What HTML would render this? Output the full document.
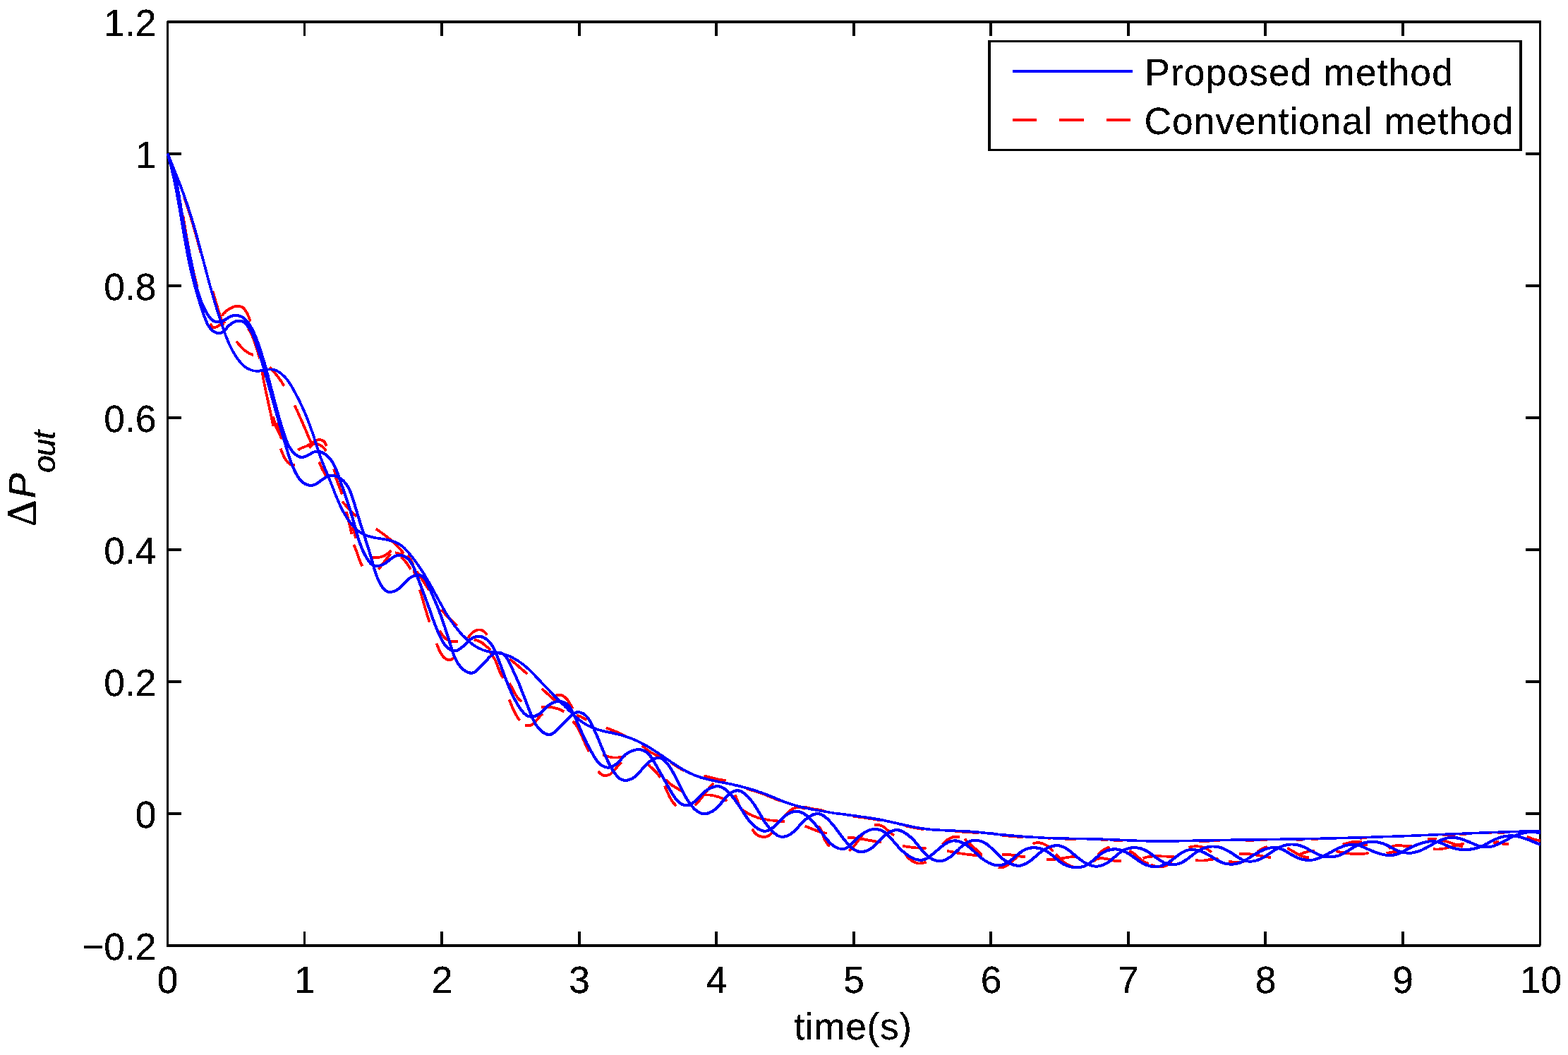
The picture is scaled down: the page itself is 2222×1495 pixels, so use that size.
<!DOCTYPE html>
<html lang="en"><head><meta charset="utf-8"><title>Step response comparison</title>
<style>html,body{margin:0;padding:0;background:#fff;}body{width:2222px;height:1495px;overflow:hidden;}svg{display:block;}text{font-family:"Liberation Sans",sans-serif;font-size:53.33px;fill:#000;}.b{fill:none;stroke:#0000ff;stroke-width:2.85;stroke-linejoin:round;stroke-linecap:butt;}.r{fill:none;stroke:#ff0000;stroke-width:2.9;stroke-linejoin:round;stroke-linecap:butt;}</style></head><body>
<svg width="2222" height="1495" viewBox="0 0 2222 1495">
<rect x="0" y="0" width="2222" height="1495" fill="#ffffff"/>
<defs><filter id="crisp" filterUnits="userSpaceOnUse" x="0" y="0" width="2222" height="1495" color-interpolation-filters="sRGB"><feComponentTransfer><feFuncA type="discrete" tableValues="0 0 1 1 1 1"/></feComponentTransfer></filter><filter id="anypart" filterUnits="userSpaceOnUse" x="0" y="0" width="2222" height="1495" color-interpolation-filters="sRGB"><feComponentTransfer><feFuncA type="discrete" tableValues="0 1 1 1 1 1 1 1 1 1 1 1 1 1 1 1 1 1 1 1 1 1 1 1"/></feComponentTransfer></filter></defs>
<g fill="#000" shape-rendering="crispEdges">
<rect x="237" y="29" width="1947" height="4"/>
<rect x="236" y="1338" width="1947" height="4"/>
<rect x="236" y="30" width="3" height="1310"/>
<rect x="2181" y="31" width="3" height="1309"/>
<rect x="430" y="1320" width="3" height="18"/>
<rect x="430" y="33" width="3" height="18"/>
<rect x="624" y="1320" width="4" height="18"/>
<rect x="624" y="33" width="4" height="18"/>
<rect x="819" y="1320" width="4" height="18"/>
<rect x="819" y="33" width="4" height="18"/>
<rect x="1013" y="1320" width="4" height="18"/>
<rect x="1013" y="33" width="4" height="18"/>
<rect x="1208" y="1320" width="4" height="18"/>
<rect x="1208" y="33" width="4" height="18"/>
<rect x="1402" y="1320" width="4" height="18"/>
<rect x="1402" y="33" width="4" height="18"/>
<rect x="1597" y="1320" width="4" height="18"/>
<rect x="1597" y="33" width="4" height="18"/>
<rect x="1791" y="1320" width="4" height="18"/>
<rect x="1791" y="33" width="4" height="18"/>
<rect x="1986" y="1320" width="4" height="18"/>
<rect x="1986" y="33" width="4" height="18"/>
<rect x="239" y="216" width="18" height="4"/>
<rect x="2162" y="216" width="19" height="4"/>
<rect x="239" y="403" width="18" height="4"/>
<rect x="2162" y="403" width="19" height="4"/>
<rect x="239" y="590" width="18" height="4"/>
<rect x="2162" y="590" width="19" height="4"/>
<rect x="239" y="777" width="18" height="4"/>
<rect x="2162" y="777" width="19" height="4"/>
<rect x="239" y="964" width="18" height="4"/>
<rect x="2162" y="964" width="19" height="4"/>
<rect x="239" y="1151" width="18" height="4"/>
<rect x="2162" y="1151" width="19" height="4"/>
</g>
<g class="r" filter="url(#anypart)">
<path d="M314.8 447.1L316.3 445.1L318.1 443.1L320.1 441.2L322.4 439.4L324.8 437.8L327.3 436.4L329.8 435.3L332.4 434.4L335.0 433.9L337.5 433.8L339.9 434.1L342.2 434.8L344.3 436.1L346.2 437.9L347.8 440.1L349.4 442.5L350.7 445.1L351.9 447.7L353.0 450.3L354.0 452.9L354.8 455.1"/>
<path d="M298.1 458.7L300.4 462.4L302.8 463.9L305.3 463.9L308.0 462.6L310.7 460.8L313.4 458.7L316.1 457.0L318.8 456.0"/>
<path d="M335.1 484.0L336.9 486.1L338.7 488.2L340.5 490.3L342.5 492.3L344.5 494.3L346.5 496.2L348.7 497.9L351.0 499.5L353.4 500.9L355.9 502.0L358.6 502.9"/>
<path d="M371.2 526.4L373.9 535.0"/>
<path d="M382.6 520.8L384.6 523.0L386.6 525.2L388.5 527.4L390.4 529.7L392.3 532.0L394.1 534.3L395.9 536.7L397.6 539.1L399.2 541.5L400.8 544.0L402.4 546.5"/>
<path d="M371.7 527.1L372.1 529.7L372.5 532.3L372.9 534.8L373.4 537.4L373.8 540.0L374.3 542.5L374.8 545.1L375.3 547.6L375.8 550.2L376.4 552.8L376.9 555.3L377.5 557.9L378.0 560.4L378.6 563.0L379.1 565.5L379.7 568.1L380.2 570.6L380.8 573.1L381.4 575.7L381.9 578.2L382.5 580.8L383.0 583.3L383.6 585.9L384.1 588.4L384.6 591.0L385.2 593.5L385.7 596.1L386.2 598.7L386.6 601.2L387.1 603.8"/>
<path d="M387.1 590.3L390.7 603.8L398.8 621.0"/>
<path d="M417.8 574.9L418.9 577.3L420.0 579.8L421.2 582.2L422.3 584.6L423.4 587.1L424.4 589.5L425.5 592.0L426.6 594.4L427.7 596.9L428.8 599.3L429.8 601.8L430.9 604.2L432.0 606.7L433.0 609.2L434.1 611.6L435.1 614.1L436.2 616.6L437.2 619.0L438.3 621.5L439.4 623.9L440.4 626.4"/>
<path d="M391.8 600.0L395.4 611.7L399.9 621.7"/>
<path d="M397.7 636.1L398.6 638.4L399.6 640.9L400.7 643.5L401.9 646.2L403.2 648.8L404.7 651.2L406.3 653.5L408.2 655.5L410.2 657.2L412.6 658.4L415.1 659.1L418.0 659.2"/>
<path d="M422.5 637.5L424.8 636.1L427.2 635.0L429.6 633.9L432.1 633.0L434.5 632.0L436.9 630.9L439.2 629.6L441.5 628.1L443.8 626.6L446.1 625.1L448.4 624.0L450.8 623.3L453.3 623.2L455.7 623.6L457.9 624.7L459.8 626.4L461.3 628.7L462.3 631.9"/>
<path d="M438.7 634.4L440.9 631.7L443.3 629.9L445.9 629.0L448.6 628.9L451.2 629.5L453.8 630.7L456.2 632.4L458.4 634.4L460.4 636.6L462.1 638.9"/>
<path d="M452.3 655.1L456.8 665.0L462.2 674.9"/>
<path d="M473.1 665.0L475.8 672.2"/>
<path d="M475.8 676.7L480.3 688.5L484.8 700.2"/>
<path d="M485.5 711.0L487.3 713.2L489.1 715.4L490.9 717.6L492.8 719.7L494.7 721.8L496.7 723.9L498.7 725.9L500.8 727.9L502.9 729.8L505.0 731.7"/>
<path d="M491.1 725.5L491.7 728.4L492.3 731.2L493.0 734.1L493.7 736.9L494.4 739.7L495.1 742.6L495.8 745.4L496.5 748.3L497.1 751.1L497.6 754.0L498.0 756.9"/>
<path d="M499.8 747.0L504.3 762.3"/>
<path d="M501.6 772.2L502.7 774.9L503.8 777.6L504.8 780.3L505.8 783.1L506.7 785.8L507.7 788.6L508.7 791.3L509.7 794.0L510.8 796.7L512.0 799.4L513.3 802.0"/>
<path d="M533.2 749.7L535.5 751.2L537.7 752.8L539.9 754.4L542.1 756.0L544.3 757.6L546.5 759.3L548.6 761.0L550.8 762.7L552.9 764.5L554.9 766.3L557.0 768.1L559.0 770.0L561.0 771.9L562.9 773.8L564.8 775.8L566.7 777.8L568.5 779.8L570.3 781.9L572.0 784.0"/>
<path d="M526.0 789.4L528.7 790.0L531.5 790.2L534.3 790.2L537.1 789.8L539.9 789.2L542.5 788.3L545.1 787.2L547.6 785.8L549.9 784.2L552.1 782.4L554.0 780.4"/>
<path d="M536.8 806.5L538.6 804.1L540.4 801.7L542.2 799.3L544.0 796.9L545.9 794.5L547.7 792.1L549.5 789.7L551.3 787.3L553.1 784.9"/>
<path d="M560.3 783.1L565.7 784.9L572.0 784.9"/>
<path d="M568.4 789.4L570.8 791.5L572.9 793.7L574.9 796.2L576.7 798.7L578.5 801.3L580.2 803.9L582.0 806.5"/>
<path d="M577.4 787.6L582.0 793.0L585.6 800.2"/>
<path d="M586.5 808.4L589.2 817.4"/>
<path d="M591.0 810.2L592.5 812.5L594.1 814.8L595.6 817.2L597.2 819.5L598.7 821.8L600.3 824.1L601.8 826.4L603.3 828.8L604.8 831.1L606.2 833.6L607.5 836.0"/>
<path d="M595.0 836.0L595.8 838.7L596.6 841.3L597.4 844.0L598.1 846.7L598.9 849.3L599.7 852.0L600.4 854.7L601.2 857.3L602.0 860.0L602.8 862.7L603.6 865.3L604.4 868.0L605.2 870.6L606.0 873.3L606.9 875.9L607.7 878.6L608.6 881.2"/>
<path d="M625.7 864.0L627.5 866.2L629.3 868.4L631.2 870.5L633.2 872.6L635.2 874.6L637.3 876.6L639.3 878.6L641.4 880.5L643.4 882.5L645.4 884.5L647.4 886.6"/>
<path d="M623.1 893.7L624.5 896.3L626.1 898.8L627.8 901.1L629.8 903.3L631.9 905.2L634.3 906.7L636.8 908.0L639.4 908.9L642.2 909.3L645.2 909.2L648.4 908.6"/>
<path d="M663.7 903.9L665.1 901.5L666.8 899.2L668.8 897.1L671.0 895.3L673.4 893.8L675.9 892.8L678.5 892.4L681.1 892.5L683.5 893.2L685.9 894.7L688.0 896.7L689.9 899.5"/>
<path d="M672.1 906.5L675.1 907.1L678.0 908.1L680.6 909.4L683.2 911.0L685.6 912.8L687.9 914.8L690.3 916.8L692.6 918.7L694.9 920.6"/>
<path d="M618.6 912.0L619.5 914.2L620.5 916.6L621.6 919.3L622.8 922.0L624.2 924.8L625.8 927.4L627.5 929.8L629.4 931.9L631.5 933.6L633.7 934.8L636.0 935.3L638.5 935.0L641.1 933.8L643.8 931.6"/>
<path d="M694.9 926.0L696.9 928.0L698.6 930.2L700.2 932.6L701.5 935.0L702.7 937.5L703.7 940.1L704.7 942.7L705.7 945.4L706.7 948.0L707.7 950.7L708.8 953.2L710.0 955.7L711.4 958.1L712.9 960.4"/>
<path d="M722.0 934.2L724.3 935.7L726.5 937.3L728.6 939.0L730.8 940.7L732.8 942.5L734.9 944.3L736.9 946.1L738.9 947.9L741.0 949.7L743.1 951.5L745.2 953.2L747.3 954.9"/>
<path d="M722.0 968.5L723.5 970.8L724.8 973.3L726.2 975.8L727.5 978.3L728.8 980.8L730.1 983.3L731.6 985.7L733.2 988.0L734.9 990.2L736.9 992.1L739.2 993.9"/>
<path d="M721.8 991.6L722.9 994.3L724.0 997.1L725.1 999.8L726.2 1002.6L727.4 1005.3L728.6 1007.9L730.0 1010.6L731.4 1013.1L732.9 1015.7L734.5 1018.1L736.3 1020.5"/>
<path d="M768.0 976.2L770.3 978.2L772.7 980.3L775.0 982.4L777.3 984.4L779.6 986.5L781.9 988.6L784.2 990.7L786.5 992.7"/>
<path d="M787.2 985.7L790.2 984.8L792.9 984.6L795.5 985.1L797.9 986.2L800.1 987.7L802.2 989.6L804.1 991.8L805.8 994.3L807.4 996.8L808.8 999.3L810.1 1001.7L811.3 1003.9"/>
<path d="M767.1 1002.1L769.8 1001.8L772.6 1001.7L775.3 1001.7L778.0 1001.8L780.7 1002.1L783.4 1002.5L786.0 1003.1L788.6 1003.8L791.2 1004.6L793.7 1005.6L796.2 1006.8L798.7 1008.1"/>
<path d="M744.3 1027.8L747.4 1028.5L750.2 1028.3L752.7 1027.5L755.0 1026.1L757.1 1024.3L759.2 1022.2L761.1 1019.9L763.0 1017.6L764.9 1015.3L766.8 1013.3L768.7 1011.6"/>
<path d="M817.5 1013.3L823.8 1016.0L831.1 1020.0"/>
<path d="M812.0 1022.4L813.8 1024.4L815.5 1026.5L817.1 1028.7L818.5 1030.9L819.9 1033.2L821.1 1035.6L822.3 1038.0L823.5 1040.4L824.5 1042.8L825.6 1045.3L826.6 1047.8L827.7 1050.3L828.7 1052.7L829.8 1055.2L830.9 1057.6L832.1 1060.0L833.3 1062.4L834.6 1064.7"/>
<path d="M859.0 1031.5L861.7 1032.4L864.3 1033.4L867.0 1034.4L869.6 1035.5L872.2 1036.6L874.8 1037.7L877.4 1038.9L879.9 1040.2L882.4 1041.5L884.9 1042.8L887.4 1044.2"/>
<path d="M854.5 1069.6L856.9 1070.7L859.5 1071.5L862.1 1072.2L864.9 1072.8L867.7 1073.2L870.5 1073.4L873.3 1073.5L876.1 1073.5L878.9 1073.3L881.5 1072.8L883.9 1072.0L886.1 1070.7"/>
<path d="M847.9 1093.0L850.2 1095.7L852.6 1097.5L855.1 1098.7L857.6 1099.1L860.1 1098.9L862.5 1098.2L864.9 1096.9L867.0 1095.2L869.1 1093.2L871.1 1091.0L873.0 1088.7L874.9 1086.4L876.7 1084.2L878.6 1082.2L880.5 1080.5"/>
<path d="M910.4 1057.0L912.6 1059.0L914.9 1060.9L917.3 1062.7L919.7 1064.4L922.2 1066.0L924.8 1067.5L927.4 1068.8L930.1 1070.1L932.8 1071.3L935.6 1072.4"/>
<path d="M919.4 1084.1L921.5 1086.2L923.6 1088.3L925.7 1090.4L927.8 1092.4L929.9 1094.5L931.9 1096.7L933.8 1099.0L935.6 1101.3"/>
<path d="M943.8 1104.9L945.7 1107.1L947.8 1109.2L950.0 1111.0L952.4 1112.7L954.8 1114.3L957.3 1115.8L959.8 1117.3L962.3 1118.8L964.8 1120.3L967.2 1122.0"/>
<path d="M942.0 1113.9L943.1 1116.3L944.3 1118.8L945.3 1121.3L946.5 1123.8L947.6 1126.3L948.8 1128.8L950.0 1131.2L951.4 1133.5L952.9 1135.8L954.5 1138.0L956.2 1140.0L958.2 1141.9"/>
<path d="M997.9 1099.5L1000.6 1100.1L1003.4 1100.8L1006.1 1101.5L1008.8 1102.2L1011.6 1102.9L1014.3 1103.6L1017.1 1104.2L1019.8 1104.8L1022.6 1105.2L1025.4 1105.6L1028.2 1105.8"/>
<path d="M985.3 1141.0L987.2 1138.9L989.1 1136.8L990.9 1134.6L992.7 1132.4L994.5 1130.1L996.2 1127.9L997.9 1125.6L999.6 1123.4L1001.4 1121.1L1003.1 1118.9L1004.9 1116.7L1006.8 1114.5L1008.7 1112.4L1010.6 1110.3"/>
<path d="M998.8 1126.5L1001.5 1126.4L1004.3 1126.4L1007.0 1126.7L1009.7 1127.1L1012.3 1127.6L1015.0 1128.3L1017.6 1129.1L1020.2 1130.0L1022.7 1131.1L1025.2 1132.2L1027.6 1133.4L1030.0 1134.7"/>
<path d="M1041.6 1126.9L1042.9 1129.3L1043.9 1131.7L1044.8 1134.3L1045.6 1136.8L1046.4 1139.3L1047.3 1141.7L1048.5 1143.9L1049.9 1145.8L1051.7 1147.5L1053.8 1149.0L1056.0 1150.3L1058.3 1151.6L1060.6 1152.9L1063.0 1154.1L1065.4 1155.3L1067.9 1156.3L1070.4 1157.4L1072.9 1158.3L1075.4 1159.1L1077.9 1159.8L1080.4 1160.4L1083.0 1160.9L1085.5 1161.4L1088.1 1161.7L1090.7 1162.1L1093.3 1162.4L1095.9 1162.7L1098.5 1162.9L1101.1 1163.2L1103.7 1163.4L1106.3 1163.7L1109.0 1164.0L1111.6 1164.3"/>
<path d="M1066.1 1175.0L1067.6 1177.7L1069.4 1180.1L1071.5 1182.1L1073.9 1183.7L1076.5 1185.0L1079.2 1185.7L1082.0 1186.0L1084.8 1185.8L1087.5 1185.1L1090.0 1183.7L1092.3 1181.8L1094.4 1179.2"/>
<path d="M1112.7 1155.7L1114.5 1153.4L1116.5 1151.3L1118.6 1149.3L1120.9 1147.6L1123.4 1146.2L1125.9 1145.1L1128.6 1144.4L1131.3 1144.1L1134.1 1144.2L1137.0 1144.8L1139.9 1146.0"/>
<path d="M1140.9 1170.8L1143.6 1171.7L1146.3 1172.8L1149.0 1173.9L1151.7 1175.0L1154.4 1176.1L1157.1 1177.2L1159.8 1178.1L1162.6 1179.0L1165.4 1179.7L1168.3 1180.2L1171.2 1180.5"/>
<path d="M1160.4 1170.8L1161.9 1173.3L1163.2 1175.9L1164.4 1178.6L1165.4 1181.3L1166.4 1184.1L1167.5 1186.9L1168.6 1189.6L1170.0 1192.2L1171.5 1194.6L1173.3 1196.9L1175.5 1198.9"/>
<path d="M1201.5 1187.0L1204.3 1187.0L1207.1 1187.1L1209.8 1187.3L1212.6 1187.6L1215.4 1187.9L1218.1 1188.3L1220.8 1188.7L1223.6 1189.2L1226.3 1189.7L1229.0 1190.2L1231.8 1190.7L1234.5 1191.3L1237.2 1191.8L1240.0 1192.2L1242.7 1192.7L1245.4 1193.1L1248.2 1193.4"/>
<path d="M1203.7 1205.4L1205.8 1203.5L1207.8 1201.6L1209.7 1199.5L1211.5 1197.3L1213.2 1195.1L1214.9 1192.9L1216.5 1190.6L1218.1 1188.3L1219.8 1186.0L1221.5 1183.8L1223.2 1181.6"/>
<path d="M1239.5 1169.5L1242.6 1168.9L1245.4 1168.9L1248.1 1169.6L1250.6 1170.8L1253.1 1172.4L1255.4 1174.2L1257.6 1176.2L1259.9 1178.3L1262.1 1180.3L1264.3 1182.1L1266.6 1183.6"/>
<path d="M1279.6 1198.8L1282.3 1199.3L1285.0 1199.7L1287.7 1200.1L1290.4 1200.5L1293.1 1200.8L1295.8 1201.1L1298.5 1201.4L1301.2 1201.6L1303.9 1201.8L1306.7 1201.9L1309.4 1202.0L1312.1 1202.1"/>
<path d="M1283.9 1211.9L1285.7 1214.2L1287.8 1216.3L1290.0 1218.3L1292.5 1219.9L1295.1 1221.3L1297.8 1222.4L1300.6 1223.1L1303.4 1223.4L1306.3 1223.3L1309.3 1222.7L1312.1 1221.6"/>
<path d="M1335.9 1196.7L1337.8 1194.4L1340.0 1192.2L1342.4 1190.2L1345.0 1188.5L1347.7 1187.2L1350.6 1186.2L1353.6 1185.8L1356.7 1185.8L1359.8 1186.4"/>
<path d="M1342.4 1205.9L1345.1 1206.4L1347.8 1207.0L1350.5 1207.5L1353.1 1208.0L1355.8 1208.5L1358.5 1208.9L1361.2 1209.4L1363.9 1209.8L1366.7 1210.2L1369.4 1210.6L1372.1 1210.9L1374.8 1211.2L1377.5 1211.5L1380.3 1211.7L1383.0 1211.8L1385.7 1211.9L1388.5 1211.9L1391.2 1211.9"/>
<path d="M1367.4 1189.1L1369.5 1191.2L1371.6 1193.2L1373.7 1195.2L1375.9 1197.2L1378.0 1199.2L1380.2 1201.2L1382.4 1203.1L1384.5 1205.1L1386.7 1207.0L1388.9 1209.0L1391.1 1210.9"/>
<path d="M1420.5 1210.8L1423.2 1210.7L1426.0 1210.8L1428.7 1211.0L1431.4 1211.3L1434.1 1211.7L1436.8 1212.1L1439.5 1212.5L1442.2 1212.9L1444.9 1213.3L1447.6 1213.7L1450.3 1214.0L1453.0 1214.2"/>
<path d="M1415.0 1229.2L1417.9 1229.4L1420.7 1229.1L1423.3 1228.3L1425.7 1227.2L1428.0 1225.7L1430.3 1224.0L1432.4 1222.2L1434.6 1220.3L1436.7 1218.5L1438.8 1216.7L1441.0 1215.1"/>
<path d="M1463.8 1195.6L1466.4 1194.6L1469.1 1194.2L1471.7 1194.1L1474.4 1194.5L1477.0 1195.2L1479.5 1196.2L1482.0 1197.5L1484.4 1199.0L1486.6 1200.6L1488.6 1202.4L1490.5 1204.3L1492.1 1206.2"/>
<path d="M1483.3 1217.8L1486.0 1218.0L1488.7 1218.1L1491.4 1218.0L1494.1 1217.8L1496.7 1217.5L1499.4 1217.1L1502.1 1216.7L1504.7 1216.3L1507.4 1215.8L1510.0 1215.4L1512.7 1215.0L1515.4 1214.6L1518.0 1214.3L1520.7 1214.1L1523.4 1214.0"/>
<path d="M1496.3 1210.8L1498.4 1212.8L1500.5 1214.9L1502.7 1217.1L1504.9 1219.2L1507.2 1221.2L1509.5 1223.1L1512.0 1224.8L1514.6 1226.2L1517.3 1227.4L1520.2 1228.2"/>
<path d="M1555.9 1210.8L1558.0 1209.0L1560.1 1207.2L1562.3 1205.5L1564.6 1203.9L1567.0 1202.5L1569.6 1201.4L1572.2 1200.5"/>
<path d="M1549.3 1220.6L1551.7 1218.8L1554.2 1217.5L1556.7 1216.7L1559.2 1216.3L1561.8 1216.3L1564.4 1216.5L1567.1 1217.0L1569.8 1217.5L1572.4 1218.2L1575.1 1218.9L1577.8 1219.5L1580.5 1220.0L1583.1 1220.3L1585.7 1220.3L1588.4 1220.0"/>
<path d="M1600.4 1205.9L1602.9 1207.1L1605.2 1208.5L1607.4 1210.0L1609.6 1211.8L1611.6 1213.6L1613.7 1215.4L1615.7 1217.2L1617.8 1218.9L1620.0 1220.5L1622.3 1221.9L1624.8 1223.0L1627.5 1223.8"/>
<path d="M1619.9 1216.2L1622.5 1215.4L1625.2 1214.7L1627.8 1214.2L1630.5 1213.9L1633.2 1213.6L1635.9 1213.4L1638.7 1213.3L1641.4 1213.3L1644.1 1213.3L1646.9 1213.4L1649.6 1213.5L1652.3 1213.6L1655.1 1213.7L1657.8 1213.9L1660.5 1213.9L1663.2 1214.0"/>
<path d="M1630.7 1225.8L1633.5 1226.5L1636.3 1227.3L1639.1 1228.0L1641.9 1228.5L1644.7 1228.6L1647.4 1228.3L1650.1 1227.7L1652.7 1226.6L1655.3 1225.3L1657.7 1223.5L1660.0 1221.5"/>
<path d="M1684.9 1201.0L1687.6 1200.1L1690.4 1199.6L1693.2 1199.2L1696.0 1199.2L1698.8 1199.4L1701.5 1199.9L1704.2 1200.6L1706.9 1201.5L1709.4 1202.7L1711.9 1204.1L1714.2 1205.7L1716.4 1207.4"/>
<path d="M1694.7 1218.9L1697.6 1219.3L1700.4 1219.4L1703.3 1219.4L1706.2 1219.2L1709.0 1218.9L1711.9 1218.5L1714.7 1218.1L1717.5 1217.7L1720.4 1217.3L1723.2 1217.0L1726.1 1216.7"/>
<path d="M1741.3 1221.1L1752.1 1221.6L1762.9 1221.6"/>
<path d="M1756.4 1210.2L1759.2 1210.0L1762.0 1209.9L1764.9 1209.9L1767.6 1210.0L1770.4 1210.3L1773.2 1210.6L1776.0 1211.0L1778.8 1211.4L1781.5 1211.9L1784.3 1212.3L1787.1 1212.9L1789.8 1213.4L1792.6 1213.9L1795.3 1214.3L1798.1 1214.8L1800.9 1215.1"/>
<path d="M1782.4 1206.4L1788.9 1202.6L1795.4 1199.9"/>
<path d="M1824.7 1202.1L1827.1 1203.4L1829.5 1204.7L1831.9 1206.2L1834.3 1207.6L1836.7 1209.1L1839.2 1210.4L1841.7 1211.7L1844.2 1212.8L1846.8 1213.8L1849.4 1214.5L1852.2 1214.9L1855.0 1215.1"/>
<path d="M1843.1 1210.2L1845.8 1209.1L1848.5 1208.2L1851.3 1207.3L1854.1 1206.7L1856.9 1206.1L1859.7 1205.7L1862.6 1205.4"/>
<path d="M1903.3 1196.7L1906.1 1195.6L1908.9 1194.8L1911.7 1194.1L1914.6 1193.5L1917.5 1193.2L1920.5 1192.9L1923.4 1192.8L1926.4 1192.8L1929.3 1192.9"/>
<path d="M1931.5 1196.7L1938.0 1196.7"/>
<path d="M1893.6 1206.3L1896.3 1206.8L1898.9 1207.3L1901.6 1207.8L1904.2 1208.3L1906.9 1208.7L1909.6 1209.1L1912.3 1209.5L1914.9 1209.8L1917.6 1210.1L1920.3 1210.2L1923.0 1210.3L1925.7 1210.3L1928.4 1210.2L1931.1 1210.0L1933.7 1209.6L1936.4 1209.1L1939.1 1208.5"/>
<path d="M1968.4 1202.1L1970.8 1200.4L1973.3 1199.3L1975.9 1198.6L1978.6 1198.2L1981.4 1198.2L1984.2 1198.3L1987.1 1198.5L1990.0 1198.7L1992.8 1198.9L1995.6 1199.0L1998.3 1198.8L2000.9 1198.3"/>
<path d="M1965.1 1209.1L1972.7 1207.5L1980.3 1207.0"/>
<path d="M2023.6 1189.1L2035.5 1188.6"/>
<path d="M2031.2 1203.2L2034.0 1203.4L2036.8 1203.4L2039.6 1203.3L2042.3 1203.0L2045.0 1202.6L2047.7 1202.1L2050.4 1201.5L2053.1 1200.8L2055.7 1200.1L2058.4 1199.4L2061.1 1198.6L2063.7 1197.9L2066.4 1197.2L2069.1 1196.6L2071.8 1196.0L2074.5 1195.6"/>
<path d="M2043.1 1190.7L2045.8 1191.3L2048.5 1192.1L2051.2 1192.9L2053.9 1193.7L2056.5 1194.6L2059.1 1195.5L2061.8 1196.4L2064.4 1197.3L2067.1 1198.2L2069.7 1199.1L2072.4 1199.9"/>
<path d="M2116.4 1194.5L2123.9 1192.3"/>
<path d="M2128.3 1195.6L2138.0 1196.1"/>
<path d="M2164.0 1185.8L2172.7 1189.1L2182.5 1191.3"/>
<path d="M2176.0 1178.6L2182.5 1178.9"/>
<path d="M259.4 306.1L259.9 309.1L260.4 312.0L260.9 315.0L261.4 318.0L261.9 321.0L262.4 323.9L262.9 326.9L263.4 329.9L263.9 332.8L264.4 335.8L264.9 338.8L265.5 341.7L266.0 344.7L266.5 347.6L267.1 350.6L267.6 353.5L268.2 356.5L268.7 359.4L269.3 362.4L269.9 365.3L270.5 368.2L271.1 371.2L271.7 374.1L272.4 377.0L273.0 379.9L273.7 382.8L274.3 385.8L275.0 388.7L275.7 391.6L276.4 394.5L277.2 397.4L277.9 400.3L278.6 403.2L279.4 406.0"/>
<path d="M261.0 279.5L262.0 282.3L263.0 285.2L264.0 288.0L264.9 290.8L265.9 293.7L266.8 296.5L267.7 299.4L268.6 302.3L269.5 305.1L270.4 308.0L271.3 310.9L272.2 313.7L273.0 316.6L273.9 319.5L274.7 322.4L275.5 325.3L276.4 328.2L277.2 331.1L278.0 333.9L278.8 336.8L279.6 339.7L280.3 342.6L281.1 345.5L281.9 348.4L282.7 351.4L283.5 354.3L284.2 357.2"/>
<path d="M301.4 412.3L302.2 415.2L303.1 418.1L303.9 421.0L304.7 423.9L305.6 426.8L306.4 429.7L307.3 432.5L308.2 435.4L309.0 438.3L309.9 441.2L310.8 444.0L311.7 446.9L312.7 449.7L313.6 452.6L314.5 455.4L315.5 458.3L316.5 461.1"/>
<path d="M351.9 465.5L353.6 468.3L355.1 471.1L356.5 473.9L357.7 476.7L358.9 479.5L360.0 482.3L361.0 485.1L361.9 487.9L362.8 490.7L363.7 493.5L364.6 496.3L365.5 499.2L366.3 502.0L367.2 504.9L368.1 507.7"/>
<path d="M951.1 1080.9L953.7 1082.5L956.2 1084.2L958.7 1085.9L961.3 1087.5L963.8 1089.1L966.4 1090.6L969.0 1092.1"/>
<path d="M1058.1 1117.7L1060.9 1118.5L1063.8 1119.4L1066.7 1120.2L1069.5 1121.1L1072.4 1122.0L1075.2 1123.0L1078.1 1123.9L1080.9 1125.0L1083.7 1126.0L1086.5 1127.1L1089.3 1128.2L1092.1 1129.3L1094.9 1130.4L1097.7 1131.6L1100.4 1132.8L1103.2 1133.9L1106.0 1135.0"/>
<path d="M1140.4 1143.7L1143.4 1144.4L1146.3 1145.0L1149.3 1145.6L1152.2 1146.2L1155.2 1146.7L1158.1 1147.3L1161.1 1147.8L1164.0 1148.3L1167.0 1148.8"/>
<path d="M1208.6 1156.6L1211.6 1157.0L1214.6 1157.4L1217.6 1157.8L1220.5 1158.2L1223.5 1158.6L1226.5 1159.0L1229.4 1159.5L1232.4 1159.9L1235.4 1160.4L1238.3 1160.9L1241.3 1161.4L1244.3 1161.9L1247.2 1162.4"/>
<path d="M1282.5 1170.1L1285.4 1170.8L1288.3 1171.4L1291.3 1172.0L1294.2 1172.6L1297.2 1173.2L1300.1 1173.7L1303.1 1174.2L1306.0 1174.7L1309.0 1175.1"/>
<path d="M1354.0 1178.1L1357.0 1178.3L1360.0 1178.4L1363.0 1178.5L1366.0 1178.7L1369.0 1178.9L1372.0 1179.0L1375.0 1179.3L1378.0 1179.5L1381.0 1179.7L1384.0 1180.0L1387.0 1180.3"/>
<path d="M1419.8 1183.6L1422.8 1183.9L1425.8 1184.2L1428.8 1184.5L1431.8 1184.7L1434.8 1185.0L1437.8 1185.2L1440.8 1185.5L1443.8 1185.7L1446.8 1186.0L1449.8 1186.2"/>
<path d="M1485.7 1188.3L1488.7 1188.4"/>
<path d="M1509.8 1189.0L1512.8 1189.1L1515.8 1189.1L1518.8 1189.2L1521.8 1189.2L1524.8 1189.3"/>
<path d="M1560.8 1190.1L1563.8 1190.2L1566.8 1190.3L1569.8 1190.4"/>
<path d="M1578.8 1190.7L1581.9 1190.9L1584.9 1191.0L1587.9 1191.1L1590.9 1191.3"/>
<path d="M1699.0 1191.9L1702.0 1191.9L1705.0 1191.8L1708.0 1191.7L1711.0 1191.7L1714.0 1191.6L1717.0 1191.6L1720.0 1191.5L1723.0 1191.5L1726.0 1191.4L1729.0 1191.3"/>
<path d="M1765.1 1190.8L1768.1 1190.8L1771.1 1190.7L1774.1 1190.7L1777.1 1190.6L1780.1 1190.6L1783.1 1190.6L1786.1 1190.5L1789.1 1190.5L1792.1 1190.4L1795.1 1190.4"/>
<path d="M1837.2 1189.8L1840.2 1189.7L1843.2 1189.7L1846.2 1189.6"/>
<path d="M1858.2 1189.4L1861.2 1189.3L1864.2 1189.3L1867.2 1189.2"/>
<path d="M1927.3 1187.7L1930.3 1187.6L1933.3 1187.5L1936.3 1187.4"/>
<path d="M2044.4 1183.3L2047.4 1183.2L2050.4 1183.1L2053.4 1182.9L2056.4 1182.8L2059.4 1182.7L2062.4 1182.5"/>
<path d="M2068.4 1182.3L2071.4 1182.2L2074.4 1182.0L2077.4 1181.9"/>
<path d="M2110.4 1180.6L2113.4 1180.5"/>
<path d="M2122.4 1180.1L2125.4 1180.0L2128.4 1179.9L2131.4 1179.8"/>
</g>
<g class="b" filter="url(#anypart)">
<path d="M237.4 218.0L238.6 220.8L239.8 223.6L240.9 226.3L242.1 229.1L243.2 231.9L244.4 234.7L245.5 237.4L246.6 240.2L247.8 243.0L248.9 245.8L250.0 248.6L251.1 251.4L252.2 254.2L253.3 257.0L254.4 259.8L255.5 262.6L256.5 265.4L257.6 268.2L258.6 271.0L259.7 273.8L260.7 276.7L261.7 279.5L262.7 282.3L263.7 285.2L264.7 288.0L265.6 290.8L266.6 293.7L267.5 296.5L268.4 299.4L269.3 302.3L270.2 305.1L271.1 308.0L272.0 310.9L272.9 313.7L273.7 316.6L274.6 319.5L275.4 322.4L276.2 325.3L277.1 328.2L277.9 331.1L278.7 333.9L279.5 336.8L280.3 339.7L281.0 342.6L281.8 345.5L282.6 348.4L283.4 351.4L284.2 354.3L284.9 357.2L285.7 360.1L286.5 363.0L287.2 365.9L288.0 368.8L288.8 371.7L289.5 374.6L290.3 377.5L291.1 380.4L291.8 383.3L292.6 386.2L293.4 389.1L294.2 392.1L294.9 395.0L295.7 397.9L296.5 400.8L297.3 403.7L298.1 406.6L298.9 409.5L299.7 412.3L300.5 415.2L301.4 418.1L302.2 421.0L303.0 423.9L303.9 426.8L304.7 429.7L305.6 432.5L306.5 435.4L307.3 438.3L308.2 441.2L309.1 444.0L310.0 446.9L311.0 449.7L311.9 452.6L312.8 455.4L313.8 458.3L314.8 461.1L315.7 464.0L316.7 466.8L317.7 469.6L318.8 472.4L319.8 475.2L320.9 478.0L322.0 480.8L323.1 483.6L324.3 486.4L325.6 489.1L326.8 491.8L328.2 494.5L329.6 497.1L331.1 499.8L332.6 502.3L334.2 504.9L336.0 507.4L337.8 509.9L339.7 512.3L341.7 514.6L343.8 516.7L346.0 518.8L348.4 520.6L350.8 522.2L353.5 523.5L356.2 524.5L359.1 525.3L362.0 525.7L365.0 525.8L368.0 525.5L371.0 525.0L374.0 524.5L377.1 523.9L380.1 523.5L383.0 523.3L385.9 523.5L388.7 524.1L391.5 525.1L394.1 526.5L396.7 528.1L399.1 530.0L401.4 532.0L403.6 534.2L405.6 536.6L407.5 538.9L409.3 541.4L411.0 543.9L412.6 546.4L414.1 549.0L415.6 551.6L417.0 554.2L418.4 556.8L419.8 559.4L421.2 562.1L422.6 564.7L423.9 567.4L425.2 570.1L426.5 572.8L427.8 575.6L429.0 578.3L430.3 581.0L431.5 583.8L432.6 586.6L433.8 589.3L434.9 592.1L436.1 594.9L437.2 597.7L438.2 600.6L439.3 603.4L440.3 606.2L441.3 609.0L442.3 611.9L443.3 614.7L444.2 617.6L445.2 620.4L446.1 623.3L447.0 626.1L448.0 629.0L448.9 631.9L449.8 634.7L450.7 637.6L451.7 640.4L452.6 643.2L453.6 646.1L454.6 648.9L455.7 651.7L456.7 654.5L457.8 657.3L458.9 660.1L460.1 662.9L461.2 665.7L462.4 668.4L463.6 671.2L464.7 674.0L465.9 676.8L467.0 679.6L468.2 682.3L469.3 685.1L470.4 687.9L471.5 690.7L472.6 693.5L473.6 696.3L474.7 699.1L475.9 701.9L477.0 704.7L478.1 707.5L479.3 710.2L480.5 713.0L481.7 715.7L483.0 718.4L484.4 721.1L485.7 723.7L487.2 726.4L488.6 729.0L490.2 731.6L491.8 734.1L493.5 736.6L495.3 739.1L497.1 741.5L499.1 743.9L501.1 746.2L503.2 748.3L505.4 750.4L507.7 752.3L510.1 754.1L512.5 755.6L515.1 757.0L517.8 758.2L520.6 759.3L523.4 760.1L526.3 760.9L529.3 761.5L532.2 762.1L535.3 762.6L538.3 763.1L541.3 763.6L544.4 764.1L547.4 764.7L550.4 765.4L553.3 766.1L556.1 766.9L558.9 767.9L561.7 769.1L564.3 770.4L566.8 771.8L569.2 773.5L571.5 775.4L573.7 777.4L575.8 779.6L577.9 781.9L579.9 784.2L581.8 786.5L583.7 788.9L585.6 791.3L587.4 793.7L589.2 796.1L590.9 798.5L592.7 801.0L594.4 803.5L596.0 806.0L597.7 808.5L599.3 811.0L600.9 813.5L602.4 816.1L604.0 818.7L605.5 821.2L607.0 823.8L608.5 826.4L610.0 829.0L611.5 831.6L612.9 834.3L614.4 836.9L615.8 839.6L617.2 842.2L618.7 844.8L620.1 847.5L621.5 850.1L623.0 852.8L624.4 855.4L625.9 858.0L627.4 860.6L628.9 863.2L630.4 865.8L631.9 868.4L633.5 871.0L635.1 873.5L636.7 876.0L638.4 878.5L640.1 881.0L641.8 883.5L643.6 885.9L645.4 888.3L647.3 890.7L649.2 893.0L651.1 895.3L653.1 897.5L655.1 899.8L657.2 901.9L659.4 904.0L661.6 906.1L663.8 908.1L666.1 910.1L668.4 912.0L670.8 913.8L673.3 915.5L675.8 917.1L678.4 918.5L681.1 919.8L683.9 921.0L686.7 921.9L689.6 922.7L692.6 923.4L695.6 924.0L698.6 924.5L701.5 924.9L704.5 925.3L707.4 925.7L710.3 926.3L713.3 926.9L716.2 927.8L719.0 928.8L721.8 929.9L724.6 931.1L727.3 932.4L730.0 933.9L732.6 935.4L735.1 937.1L737.5 938.8L739.9 940.5L742.3 942.4L744.6 944.3L746.8 946.3L749.0 948.3L751.2 950.4L753.3 952.5L755.5 954.6L757.6 956.8L759.6 958.9L761.7 961.1L763.8 963.3L765.8 965.5L767.9 967.7L770.0 969.9L772.0 972.1L774.1 974.3L776.2 976.4L778.3 978.6L780.4 980.7L782.5 982.8L784.6 985.0L786.7 987.1L788.9 989.2L791.0 991.3L793.1 993.4L795.2 995.6L797.4 997.7L799.5 999.8L801.6 1001.9L803.8 1004.0L805.9 1006.2L808.0 1008.3L810.2 1010.4L812.4 1012.5L814.6 1014.5L816.8 1016.5L819.1 1018.5L821.4 1020.3L823.8 1022.1L826.3 1023.9L828.8 1025.5L831.4 1027.0L834.1 1028.4L836.8 1029.7L839.5 1031.0L842.3 1032.1L845.1 1033.2L848.0 1034.1L850.8 1034.9L853.7 1035.7L856.6 1036.4L859.5 1037.0L862.5 1037.6L865.4 1038.2L868.3 1038.8L871.3 1039.5L874.2 1040.1L877.2 1040.8L880.1 1041.6L883.0 1042.4L885.9 1043.3L888.8 1044.3L891.7 1045.3L894.5 1046.4L897.3 1047.5L900.0 1048.7L902.7 1049.9L905.4 1051.2L908.1 1052.5L910.7 1053.9L913.4 1055.4L915.9 1056.8L918.5 1058.3L921.1 1059.8L923.6 1061.4L926.1 1063.0L928.7 1064.6L931.2 1066.3L933.7 1067.9L936.2 1069.6L938.7 1071.3L941.1 1073.0L943.6 1074.7L946.1 1076.4L948.6 1078.2L951.1 1079.9L953.7 1081.5L956.2 1083.2L958.7 1084.9L961.3 1086.5L963.8 1088.1L966.4 1089.6L969.0 1091.1L971.7 1092.6L974.3 1093.9L977.0 1095.3L979.7 1096.5L982.4 1097.7L985.2 1098.9L988.0 1099.9L990.8 1100.9L993.6 1101.8L996.5 1102.6L999.4 1103.4L1002.3 1104.2L1005.2 1104.9L1008.1 1105.6L1011.1 1106.2L1014.0 1106.9L1017.0 1107.5L1019.9 1108.1L1022.9 1108.6L1025.9 1109.2L1028.8 1109.8L1031.8 1110.4L1034.7 1111.0L1037.7 1111.7L1040.6 1112.3L1043.5 1113.0L1046.5 1113.7L1049.4 1114.4L1052.3 1115.2L1055.2 1115.9L1058.1 1116.7L1060.9 1117.5L1063.8 1118.4L1066.7 1119.2L1069.5 1120.1L1072.4 1121.0L1075.2 1122.0L1078.1 1122.9L1080.9 1124.0L1083.7 1125.0L1086.5 1126.1L1089.3 1127.2L1092.1 1128.3L1094.9 1129.4L1097.7 1130.6L1100.4 1131.8L1103.2 1132.9L1106.0 1134.0L1108.8 1135.2L1111.6 1136.3L1114.5 1137.3L1117.3 1138.3L1120.1 1139.3L1123.0 1140.2L1125.9 1141.0L1128.8 1141.8L1131.7 1142.6L1134.6 1143.3L1137.5 1144.0L1140.4 1144.6L1143.4 1145.3L1146.3 1145.9L1149.3 1146.5L1152.2 1147.1L1155.2 1147.6L1158.1 1148.2L1161.1 1148.7L1164.0 1149.2L1167.0 1149.7L1170.0 1150.2L1172.9 1150.7L1175.9 1151.2L1178.9 1151.6L1181.8 1152.1L1184.8 1152.5L1187.8 1152.9L1190.8 1153.3L1193.7 1153.7L1196.7 1154.1L1199.7 1154.5L1202.7 1154.9L1205.7 1155.3L1208.6 1155.7L1211.6 1156.1L1214.6 1156.5L1217.6 1156.9L1220.5 1157.3L1223.5 1157.7L1226.5 1158.1L1229.4 1158.6L1232.4 1159.0L1235.4 1159.5L1238.3 1160.0L1241.3 1160.5L1244.3 1161.0L1247.2 1161.5L1250.2 1162.1L1253.1 1162.7L1256.0 1163.3L1259.0 1163.9L1261.9 1164.6L1264.9 1165.3L1267.8 1165.9L1270.7 1166.6L1273.7 1167.3L1276.6 1168.0L1279.5 1168.6L1282.5 1169.3L1285.4 1169.9L1288.3 1170.6L1291.3 1171.2L1294.2 1171.8L1297.2 1172.3L1300.1 1172.9L1303.1 1173.4L1306.0 1173.8L1309.0 1174.2L1312.0 1174.6L1315.0 1175.0L1317.9 1175.3L1320.9 1175.5L1323.9 1175.8L1326.9 1176.0L1329.9 1176.2L1332.9 1176.4L1335.9 1176.5L1338.9 1176.7L1341.9 1176.8L1344.9 1176.9L1347.9 1177.1L1351.0 1177.2L1354.0 1177.3L1357.0 1177.4L1360.0 1177.5L1363.0 1177.7L1366.0 1177.8L1369.0 1178.0L1372.0 1178.2L1375.0 1178.4L1378.0 1178.6L1381.0 1178.9L1384.0 1179.1L1387.0 1179.4L1390.0 1179.7L1393.0 1180.0L1395.9 1180.3L1398.9 1180.6L1401.9 1180.9L1404.9 1181.2L1407.9 1181.5L1410.9 1181.8L1413.9 1182.2L1416.8 1182.5L1419.8 1182.8L1422.8 1183.0L1425.8 1183.3L1428.8 1183.6L1431.8 1183.9L1434.8 1184.1L1437.8 1184.4L1440.8 1184.6L1443.8 1184.9L1446.8 1185.1L1449.8 1185.3L1452.8 1185.6L1455.7 1185.8L1458.7 1186.0L1461.7 1186.2L1464.7 1186.4L1467.7 1186.5L1470.7 1186.7L1473.7 1186.9L1476.7 1187.0L1479.7 1187.2L1482.7 1187.3L1485.7 1187.4L1488.7 1187.6L1491.7 1187.7L1494.7 1187.8L1497.7 1187.9L1500.8 1187.9L1503.8 1188.0L1506.8 1188.1L1509.8 1188.2L1512.8 1188.2L1515.8 1188.3L1518.8 1188.3L1521.8 1188.4L1524.8 1188.4L1527.8 1188.5L1530.8 1188.5L1533.8 1188.6L1536.8 1188.6L1539.8 1188.7L1542.8 1188.8L1545.8 1188.8L1548.8 1188.9L1551.8 1189.0L1554.8 1189.0L1557.8 1189.1L1560.8 1189.2L1563.8 1189.3L1566.8 1189.4L1569.8 1189.5L1572.8 1189.6L1575.8 1189.8L1578.8 1189.9L1581.9 1190.0L1584.9 1190.1L1587.9 1190.3L1590.9 1190.4L1593.9 1190.5L1596.9 1190.7L1599.9 1190.8L1602.9 1190.9L1605.9 1191.1L1608.9 1191.2L1611.9 1191.3L1614.9 1191.4L1617.9 1191.5L1620.9 1191.6L1623.9 1191.7L1626.9 1191.8L1629.9 1191.9L1632.9 1191.9L1635.9 1192.0L1638.9 1192.0L1641.9 1192.0L1644.9 1192.1L1647.9 1192.1L1650.9 1192.1L1653.9 1192.0L1656.9 1192.0L1659.9 1192.0L1662.9 1191.9L1665.9 1191.8L1668.9 1191.8L1671.9 1191.7L1674.9 1191.6L1677.9 1191.6L1681.0 1191.5L1684.0 1191.4L1687.0 1191.3L1690.0 1191.3L1693.0 1191.2L1696.0 1191.1L1699.0 1191.1L1702.0 1191.0L1705.0 1190.9L1708.0 1190.9L1711.0 1190.8L1714.0 1190.8L1717.0 1190.7L1720.0 1190.7L1723.0 1190.6L1726.0 1190.6L1729.0 1190.5L1732.0 1190.4L1735.0 1190.4L1738.0 1190.4L1741.0 1190.3L1744.0 1190.3L1747.1 1190.2L1750.1 1190.2L1753.1 1190.1L1756.1 1190.1L1759.1 1190.0L1762.1 1190.0L1765.1 1190.0L1768.1 1189.9L1771.1 1189.9L1774.1 1189.8L1777.1 1189.8L1780.1 1189.7L1783.1 1189.7L1786.1 1189.7L1789.1 1189.6L1792.1 1189.6L1795.1 1189.5L1798.1 1189.5L1801.1 1189.5L1804.1 1189.4L1807.1 1189.4L1810.1 1189.3L1813.1 1189.3L1816.1 1189.2L1819.1 1189.2L1822.2 1189.2L1825.2 1189.1L1828.2 1189.1L1831.2 1189.0L1834.2 1189.0L1837.2 1188.9L1840.2 1188.9L1843.2 1188.8L1846.2 1188.8L1849.2 1188.7L1852.2 1188.6L1855.2 1188.6L1858.2 1188.5L1861.2 1188.5L1864.2 1188.4L1867.2 1188.3L1870.2 1188.3L1873.2 1188.2L1876.2 1188.1L1879.2 1188.1L1882.2 1188.0L1885.2 1187.9L1888.2 1187.9L1891.2 1187.8L1894.2 1187.7L1897.2 1187.6L1900.3 1187.6L1903.3 1187.5L1906.3 1187.4L1909.3 1187.3L1912.3 1187.2L1915.3 1187.2L1918.3 1187.1L1921.3 1187.0L1924.3 1186.9L1927.3 1186.8L1930.3 1186.7L1933.3 1186.6L1936.3 1186.5L1939.3 1186.4L1942.3 1186.3L1945.3 1186.2L1948.3 1186.1L1951.3 1186.0L1954.3 1185.9L1957.3 1185.8L1960.3 1185.7L1963.3 1185.6L1966.3 1185.5L1969.3 1185.4L1972.3 1185.3L1975.3 1185.2L1978.3 1185.1L1981.3 1185.0L1984.3 1184.9L1987.3 1184.8L1990.3 1184.7L1993.3 1184.5L1996.4 1184.4L1999.4 1184.3L2002.4 1184.2L2005.4 1184.1L2008.4 1184.0L2011.4 1183.8L2014.4 1183.7L2017.4 1183.6L2020.4 1183.5L2023.4 1183.3L2026.4 1183.2L2029.4 1183.1L2032.4 1183.0L2035.4 1182.8L2038.4 1182.7L2041.4 1182.6L2044.4 1182.5L2047.4 1182.3L2050.4 1182.2L2053.4 1182.1L2056.4 1182.0L2059.4 1181.8L2062.4 1181.7L2065.4 1181.6L2068.4 1181.4L2071.4 1181.3L2074.4 1181.2L2077.4 1181.1L2080.4 1180.9L2083.4 1180.8L2086.4 1180.7L2089.4 1180.6L2092.4 1180.4L2095.4 1180.3L2098.4 1180.2L2101.4 1180.1L2104.4 1180.0L2107.4 1179.9L2110.4 1179.7L2113.4 1179.6L2116.4 1179.5L2119.4 1179.4L2122.4 1179.3L2125.4 1179.2L2128.4 1179.1L2131.4 1179.0L2134.4 1178.9L2137.4 1178.8L2140.4 1178.7L2143.5 1178.6L2146.5 1178.5L2149.5 1178.4L2152.5 1178.3L2155.5 1178.2L2158.5 1178.1L2161.5 1178.0L2164.5 1177.9L2167.5 1177.9L2170.5 1177.8L2173.5 1177.7L2176.5 1177.6L2179.5 1177.6L2182.5 1177.5"/>
<path stroke-width="3.2" d="M237.5 218.0L238.7 220.8L239.9 223.6L241.0 226.4L242.0 229.2L243.0 232.1L243.9 234.9L244.8 237.8L245.7 240.7L246.5 243.5L247.2 246.4L248.0 249.3L248.7 252.2L249.4 255.2L250.0 258.1L250.6 261.0L251.2 264.0L251.8 266.9L252.3 269.9L252.8 272.8L253.4 275.8L253.9 278.7L254.3 281.7L254.8 284.7L255.3 287.6L255.8 290.6L256.2 293.6L256.7 296.6L257.2 299.5L257.7 302.5L258.1 305.5L258.6 308.4L259.2 311.4L259.7 314.4L260.2 317.3L260.8 320.3L261.3 323.2L261.9 326.2L262.5 329.1L263.0 332.1L263.6 335.0L264.2 338.0L264.8 340.9L265.4 343.9L266.0 346.8L266.6 349.7L267.2 352.7L267.8 355.6L268.4 358.6L269.0 361.5L269.6 364.5L270.2 367.4L270.8 370.3L271.4 373.3L272.0 376.2L272.6 379.2L273.1 382.1L273.7 385.1L274.3 388.0L274.9 391.0L275.5 393.9L276.2 396.8L276.8 399.8L277.5 402.7L278.3 405.6L279.0 408.5L279.8 411.3L280.7 414.2L281.6 417.1L282.5 419.9L283.5 422.8L284.5 425.6L285.6 428.4L286.8 431.1L288.0 433.9L289.3 436.6L290.7 439.4L292.2 442.1L293.7 444.7L295.4 447.4L297.1 449.9L299.1 452.1L301.3 454.0L303.7 455.3L306.5 456.0L309.5 456.2L312.4 455.8L315.3 454.9L318.0 453.6L320.7 452.0L323.3 450.3L325.9 448.8L328.7 447.7L331.6 447.0L334.6 446.9L337.6 447.2L340.4 448.0L343.1 449.3L345.5 451.0L347.8 452.9L349.9 455.2L351.8 457.6L353.5 460.1L355.2 462.7L356.7 465.3L358.1 468.0L359.4 470.7L360.6 473.4L361.7 476.2L362.9 478.9L363.9 481.7L365.0 484.5L366.0 487.3L367.0 490.1L367.9 493.0L368.9 495.8L369.8 498.7L370.7 501.5L371.6 504.4L372.5 507.3L373.4 510.1L374.2 513.0L375.1 515.9L375.9 518.8L376.7 521.7L377.5 524.6L378.3 527.5L379.1 530.4L379.9 533.3L380.6 536.2L381.4 539.2L382.2 542.1L382.9 545.0L383.7 547.9L384.4 550.8L385.2 553.7L385.9 556.6L386.7 559.5L387.5 562.4L388.2 565.3L389.0 568.2L389.7 571.1L390.5 574.0L391.3 576.9L392.1 579.8L392.9 582.7L393.7 585.6L394.5 588.5L395.3 591.4L396.2 594.2L397.0 597.1L397.9 600.0L398.7 602.9L399.6 605.7L400.5 608.6L401.5 611.5L402.4 614.3L403.3 617.2L404.3 620.0L405.3 622.8L406.4 625.7L407.6 628.4L408.9 631.1L410.3 633.7L411.9 636.3L413.6 638.7L415.6 641.0L417.9 643.2L420.3 645.1L423.0 646.7L425.7 647.7L428.5 648.0L431.3 647.4L434.1 646.3L436.9 644.8L439.8 643.2L442.6 641.6L445.4 640.4L448.3 639.7L451.2 639.6L454.0 640.2L456.7 641.3L459.3 642.7L461.8 644.4L464.0 646.3L466.1 648.3L467.9 650.5L469.7 652.8L471.3 655.3L472.8 657.8L474.1 660.5L475.4 663.3L476.6 666.1L477.7 668.9L478.8 671.8L479.9 674.7L480.9 677.6L481.9 680.6L482.9 683.4L483.9 686.3L484.9 689.2L485.9 692.0L486.9 694.9L487.9 697.7L488.8 700.6L489.8 703.4L490.8 706.2L491.7 709.0L492.6 711.8L493.6 714.7L494.5 717.5L495.4 720.3L496.3 723.1L497.2 726.0L498.0 728.8L498.9 731.7L499.7 734.5L500.6 737.4L501.4 740.3L502.2 743.2L503.0 746.1L503.8 749.0L504.6 751.9L505.4 754.8L506.2 757.8L507.1 760.7L508.0 763.6L508.9 766.4L509.9 769.3L510.9 772.1L512.0 775.0L513.1 777.8L514.3 780.5L515.6 783.2L517.0 785.9L518.4 788.6L519.9 791.2L521.6 793.7L523.3 796.2L525.3 798.4L527.5 800.2L530.0 801.5L532.8 802.1L536.0 801.9L539.2 801.2L542.0 800.2L544.6 798.8L547.1 797.3L549.5 795.5L551.9 793.6L554.4 791.6L557.0 789.8L559.7 788.2L562.5 787.1L565.4 786.7L568.3 786.9L571.1 787.6L573.8 788.8L576.3 790.4L578.5 792.2L580.4 794.3L582.2 796.7L583.7 799.1L585.2 801.8L586.5 804.5L587.7 807.4L588.8 810.3L589.9 813.2L591.0 816.1L592.1 819.0L593.2 821.8L594.2 824.6L595.3 827.5L596.4 830.3L597.4 833.1L598.5 835.9L599.5 838.7L600.6 841.4L601.6 844.2L602.7 847.0L603.7 849.8L604.7 852.5L605.7 855.3L606.7 858.1L607.8 860.9L608.8 863.8L609.8 866.6L610.8 869.4L611.8 872.3L612.8 875.1L613.8 878.0L614.8 880.8L615.9 883.6L617.0 886.5L618.1 889.3L619.2 892.1L620.4 894.9L621.6 897.6L622.8 900.4L624.1 903.1L625.5 905.8L626.9 908.4L628.5 911.0L630.2 913.4L632.1 915.7L634.2 917.8L636.6 919.7L639.3 921.3L642.1 922.2L645.0 922.3L647.9 921.6L650.6 920.3L653.2 918.5L655.5 916.6L657.7 914.5L659.8 912.5L661.9 910.4L664.1 908.3L666.5 906.3L669.1 904.4L671.8 902.9L674.6 901.9L677.5 901.6L680.5 901.9L683.4 902.6L686.1 903.8L688.7 905.3L691.0 907.1L693.1 909.1L695.0 911.3L696.7 913.6L698.3 916.2L699.7 918.8L701.0 921.6L702.3 924.4L703.5 927.2L704.6 930.1L705.7 932.9L706.8 935.8L707.9 938.6L709.0 941.5L710.0 944.3L711.1 947.1L712.1 949.9L713.1 952.7L714.2 955.5L715.2 958.3L716.3 961.1L717.3 963.9L718.4 966.7L719.5 969.4L720.6 972.2L721.8 974.9L723.0 977.6L724.2 980.4L725.4 983.1L726.7 985.8L728.1 988.5L729.5 991.1L730.9 993.8L732.4 996.4L734.0 999.0L735.7 1001.6L737.4 1004.2L739.2 1006.7L741.1 1009.1L743.2 1011.3L745.4 1013.2L747.9 1014.6L750.6 1015.4L753.5 1015.6L756.5 1015.2L759.4 1014.4L762.1 1013.0L764.5 1011.4L766.9 1009.4L769.1 1007.3L771.3 1005.2L773.5 1003.0L775.7 1000.9L778.1 999.0L780.5 997.3L783.1 995.9L785.9 994.9L788.9 994.2L791.9 994.0L795.0 994.2L797.9 994.8L800.6 996.0L803.1 997.5L805.2 999.5L807.1 1001.9L808.7 1004.4L810.3 1007.1L811.7 1009.8L813.1 1012.5L814.4 1015.3L815.7 1018.0L816.9 1020.7L818.1 1023.5L819.3 1026.2L820.5 1029.0L821.6 1031.7L822.8 1034.5L824.0 1037.2L825.2 1039.9L826.5 1042.6L827.7 1045.3L829.0 1048.0L830.4 1050.7L831.7 1053.4L833.1 1056.1L834.5 1058.8L835.9 1061.4L837.4 1064.1L838.9 1066.7L840.4 1069.4L841.9 1072.0L843.5 1074.6L845.2 1077.0L847.0 1079.4L849.1 1081.6L851.3 1083.6L853.8 1085.3L856.4 1086.6L859.2 1087.5L862.1 1087.7L865.0 1087.2L867.8 1086.2L870.6 1084.7L873.2 1082.9L875.5 1080.8L877.7 1078.7L879.7 1076.5L881.6 1074.2L883.6 1072.0L885.8 1070.0L888.1 1068.1L890.7 1066.4L893.5 1064.9L896.3 1063.8L899.3 1062.9L902.2 1062.3L905.1 1062.2L908.0 1062.4L910.7 1063.0L913.2 1064.1L915.5 1065.5L917.7 1067.3L919.8 1069.4L921.8 1071.8L923.6 1074.3L925.4 1077.0L927.0 1079.7L928.6 1082.5L930.2 1085.3L931.8 1088.0L933.3 1090.7L934.7 1093.3L936.2 1095.9L937.7 1098.4L939.1 1101.0L940.5 1103.5L942.0 1106.0L943.4 1108.5L944.8 1111.1L946.3 1113.6L947.7 1116.2L949.2 1118.8L950.7 1121.4L952.3 1124.1L953.9 1126.7L955.6 1129.2L957.5 1131.7L959.5 1134.0L961.7 1136.2L964.1 1138.2L966.6 1139.8L969.3 1141.0L972.1 1141.5L974.9 1141.2L977.7 1140.2L980.5 1138.7L983.0 1136.9L985.4 1134.9L987.5 1132.9L989.5 1130.9L991.4 1128.8L993.4 1126.7L995.5 1124.7L997.8 1122.6L1000.3 1120.6L1002.9 1118.8L1005.7 1117.2L1008.6 1115.9L1011.4 1114.9L1014.3 1114.3L1017.1 1114.1L1019.9 1114.5L1022.5 1115.4L1025.1 1116.7L1027.5 1118.4L1029.9 1120.3L1032.1 1122.5L1034.3 1124.8L1036.3 1127.1L1038.3 1129.4L1040.2 1131.8L1042.0 1134.2L1043.7 1136.6L1045.4 1139.0L1047.1 1141.5L1048.8 1144.0L1050.4 1146.5L1052.0 1149.0L1053.6 1151.5L1055.3 1154.0L1057.0 1156.5L1058.7 1159.0L1060.5 1161.4L1062.4 1163.8L1064.4 1166.0L1066.5 1168.2L1068.7 1170.3L1071.0 1172.2L1073.5 1174.0L1076.2 1175.6L1078.9 1176.8L1081.7 1177.6L1084.5 1177.8L1087.2 1177.3L1089.9 1176.3L1092.6 1174.7L1095.2 1172.9L1097.6 1170.8L1099.9 1168.6L1102.1 1166.4L1104.2 1164.2L1106.2 1162.1L1108.2 1160.0L1110.3 1158.0L1112.6 1156.2L1115.0 1154.4L1117.6 1152.9L1120.5 1151.5L1123.4 1150.5L1126.4 1149.9L1129.3 1149.7L1132.3 1150.1L1135.1 1151.0L1137.8 1152.2L1140.4 1153.8L1142.8 1155.6L1145.2 1157.6L1147.5 1159.6L1149.6 1161.7L1151.6 1163.9L1153.6 1166.1L1155.5 1168.4L1157.4 1170.7L1159.2 1173.1L1161.0 1175.5L1162.8 1177.9L1164.6 1180.3L1166.4 1182.7L1168.2 1185.0L1170.1 1187.4L1172.1 1189.8L1174.1 1192.1L1176.2 1194.3L1178.4 1196.4L1180.7 1198.3L1183.2 1199.9L1185.7 1201.3L1188.5 1202.2L1191.4 1202.8L1194.5 1202.8L1197.6 1202.3L1200.4 1201.2L1202.9 1199.5L1205.2 1197.5L1207.4 1195.4L1209.5 1193.3L1211.6 1191.2L1213.7 1189.1L1215.8 1187.0L1218.0 1185.0L1220.3 1183.1L1222.8 1181.3L1225.4 1179.6L1228.1 1178.1L1230.8 1176.8L1233.7 1175.8L1236.6 1175.2L1239.5 1174.9L1242.5 1175.1L1245.4 1175.6L1248.3 1176.6L1251.1 1177.8L1253.7 1179.4L1256.1 1181.3L1258.4 1183.3L1260.5 1185.6L1262.5 1187.9L1264.5 1190.2L1266.5 1192.5L1268.4 1194.7L1270.3 1196.9L1272.2 1199.1L1274.2 1201.3L1276.2 1203.4L1278.3 1205.5L1280.6 1207.5L1282.9 1209.4L1285.4 1211.3L1288.1 1213.1L1290.8 1214.7L1293.6 1216.1L1296.5 1217.3L1299.4 1218.2L1302.3 1218.7L1305.1 1218.8L1307.8 1218.5L1310.4 1217.7L1313.0 1216.6L1315.5 1215.2L1317.9 1213.5L1320.4 1211.6L1322.8 1209.6L1325.2 1207.5L1327.6 1205.4L1330.0 1203.2L1332.5 1201.1L1334.9 1199.2L1337.4 1197.3L1339.9 1195.6L1342.5 1194.1L1345.1 1192.9L1347.7 1192.0L1350.4 1191.5L1353.1 1191.3L1355.9 1191.6L1358.7 1192.2L1361.5 1193.3L1364.4 1194.6L1367.1 1196.1L1369.9 1197.9L1372.5 1199.8L1375.0 1201.7L1377.3 1203.7L1379.6 1205.7L1381.7 1207.7L1383.8 1209.6L1385.9 1211.6L1388.0 1213.5L1390.2 1215.4L1392.5 1217.2L1395.0 1219.0L1397.6 1220.7L1400.4 1222.2L1403.2 1223.6L1406.1 1224.8L1409.1 1225.7L1412.0 1226.2L1414.9 1226.4L1417.8 1226.2L1420.6 1225.6L1423.3 1224.6L1426.0 1223.4L1428.6 1221.9L1431.1 1220.2L1433.6 1218.3L1436.0 1216.4L1438.3 1214.3L1440.7 1212.3L1443.1 1210.3L1445.5 1208.4L1448.0 1206.6L1450.5 1205.0L1453.2 1203.7L1456.0 1202.7L1458.8 1201.9L1461.7 1201.4L1464.7 1201.2L1467.6 1201.3L1470.6 1201.6L1473.5 1202.2L1476.4 1203.1L1479.2 1204.1L1481.9 1205.4L1484.4 1207.0L1486.9 1208.7L1489.3 1210.5L1491.6 1212.4L1493.9 1214.4L1496.3 1216.4L1498.6 1218.4L1501.0 1220.3L1503.4 1222.1L1506.0 1223.8L1508.7 1225.3L1511.4 1226.5L1514.3 1227.5L1517.2 1228.3L1520.2 1228.9L1523.2 1229.2L1526.2 1229.3L1529.1 1229.1L1532.0 1228.7L1534.8 1227.9L1537.6 1226.9L1540.2 1225.6L1542.7 1224.1L1545.1 1222.4L1547.5 1220.5L1549.8 1218.5L1552.2 1216.5L1554.5 1214.5L1556.9 1212.5L1559.4 1210.7L1562.0 1208.9L1564.6 1207.4L1567.4 1206.1L1570.2 1205.0L1573.1 1204.1L1576.0 1203.6L1578.9 1203.3L1581.8 1203.4L1584.7 1203.8L1587.6 1204.4L1590.4 1205.4L1593.2 1206.5L1595.9 1207.9L1598.6 1209.4L1601.2 1211.0L1603.7 1212.7L1606.2 1214.4L1608.6 1216.2L1611.1 1218.0L1613.5 1219.7L1616.0 1221.3L1618.6 1222.8L1621.2 1224.2L1623.9 1225.5L1626.8 1226.5L1629.8 1227.3L1632.8 1227.8L1635.9 1228.1L1638.9 1228.1L1641.8 1227.8L1644.7 1227.2L1647.4 1226.4L1650.1 1225.3L1652.7 1224.0L1655.2 1222.5L1657.7 1220.8L1660.2 1219.1L1662.7 1217.2L1665.2 1215.2L1667.7 1213.3L1670.3 1211.4L1672.9 1209.6L1675.5 1207.9L1678.2 1206.5L1680.9 1205.3L1683.6 1204.5L1686.5 1204.0L1689.3 1203.9L1692.2 1204.0L1695.1 1204.5L1698.0 1205.1L1700.8 1206.0L1703.7 1207.1L1706.5 1208.3L1709.3 1209.7L1712.0 1211.1L1714.7 1212.7L1717.2 1214.2L1719.8 1215.8L1722.3 1217.4L1724.8 1218.9L1727.3 1220.3L1729.9 1221.5L1732.7 1222.6L1735.5 1223.5L1738.6 1224.1L1741.7 1224.5L1744.8 1224.6L1748.0 1224.4L1751.1 1224.1L1754.1 1223.4L1756.9 1222.6L1759.6 1221.5L1762.2 1220.3L1764.7 1218.9L1767.2 1217.5L1769.7 1215.9L1772.2 1214.3L1774.8 1212.7L1777.4 1211.1L1780.1 1209.5L1782.8 1208.0L1785.6 1206.5L1788.4 1205.2L1791.3 1204.0L1794.2 1203.0L1797.0 1202.2L1799.9 1201.5L1802.8 1201.1L1805.6 1201.0L1808.5 1201.2L1811.3 1201.6L1814.0 1202.4L1816.8 1203.5L1819.5 1204.7L1822.1 1206.2L1824.8 1207.8L1827.5 1209.4L1830.2 1211.0L1833.0 1212.6L1835.7 1214.0L1838.5 1215.3L1841.4 1216.5L1844.2 1217.4L1847.1 1218.2L1850.0 1218.7L1852.9 1219.0L1855.8 1219.0L1858.7 1218.8L1861.6 1218.2L1864.5 1217.5L1867.3 1216.6L1870.2 1215.5L1873.0 1214.3L1875.7 1213.0L1878.5 1211.6L1881.2 1210.2L1883.8 1208.7L1886.4 1207.3L1889.0 1205.9L1891.6 1204.5L1894.2 1203.2L1896.9 1201.9L1899.6 1200.7L1902.4 1199.6L1905.3 1198.6L1908.3 1197.8L1911.4 1197.2L1914.4 1196.8L1917.4 1196.6L1920.4 1196.8L1923.3 1197.4L1926.1 1198.1L1928.8 1199.1L1931.6 1200.2L1934.3 1201.4L1937.1 1202.7L1939.9 1203.9L1942.7 1205.2L1945.5 1206.3L1948.4 1207.4L1951.3 1208.5L1954.1 1209.4L1957.0 1210.2L1959.9 1210.9L1962.8 1211.4L1965.7 1211.8L1968.6 1212.0L1971.5 1211.9L1974.4 1211.6L1977.2 1211.1L1980.1 1210.2L1983.0 1209.2L1985.8 1207.9L1988.6 1206.5L1991.4 1205.0L1994.2 1203.5L1996.9 1202.1L1999.6 1200.7L2002.3 1199.5L2005.0 1198.3L2007.7 1197.2L2010.4 1196.1L2013.2 1195.2L2016.0 1194.4L2018.9 1193.6L2021.9 1193.0L2024.9 1192.5L2027.9 1192.3L2031.0 1192.2L2033.9 1192.4L2036.9 1193.0L2039.7 1193.8L2042.6 1194.8L2045.4 1196.0L2048.1 1197.3L2050.9 1198.5L2053.7 1199.7L2056.6 1200.8L2059.4 1201.8L2062.3 1202.5L2065.3 1203.1L2068.2 1203.6L2071.2 1203.9L2074.2 1204.1L2077.2 1204.1L2080.2 1203.9L2083.1 1203.6L2086.1 1203.2L2089.0 1202.6L2091.9 1201.9L2094.8 1201.0L2097.6 1200.0L2100.3 1198.9L2103.1 1197.6L2105.7 1196.3L2108.4 1194.8L2111.0 1193.4L2113.7 1192.0L2116.4 1190.6L2119.1 1189.3L2121.9 1188.1L2124.7 1187.0L2127.6 1186.2L2130.6 1185.5L2133.6 1184.9L2136.6 1184.6L2139.6 1184.4L2142.6 1184.4L2145.6 1184.6L2148.6 1185.0L2151.5 1185.5L2154.4 1186.2L2157.3 1187.0L2160.1 1187.9L2162.9 1188.9L2165.8 1189.9L2168.6 1191.0L2171.4 1192.2L2174.1 1193.3L2176.9 1194.5L2179.7 1195.6L2182.5 1196.7"/>
<path stroke-width="3.2" d="M237.7 218.0L238.5 220.9L239.3 223.7L240.1 226.6L240.9 229.5L241.6 232.4L242.4 235.3L243.1 238.2L243.8 241.1L244.5 244.1L245.2 247.0L245.8 249.9L246.5 252.8L247.1 255.8L247.7 258.7L248.3 261.7L248.9 264.6L249.5 267.5L250.1 270.5L250.6 273.5L251.2 276.4L251.7 279.4L252.3 282.3L252.8 285.3L253.3 288.3L253.8 291.2L254.4 294.2L254.9 297.2L255.4 300.1L255.9 303.1L256.4 306.1L256.9 309.1L257.4 312.0L257.9 315.0L258.4 318.0L258.9 321.0L259.4 323.9L259.9 326.9L260.4 329.9L260.9 332.8L261.4 335.8L261.9 338.8L262.5 341.7L263.0 344.7L263.5 347.6L264.1 350.6L264.6 353.5L265.2 356.5L265.7 359.4L266.3 362.4L266.9 365.3L267.5 368.2L268.1 371.2L268.7 374.1L269.4 377.0L270.0 379.9L270.7 382.8L271.3 385.8L272.0 388.7L272.7 391.6L273.4 394.5L274.2 397.4L274.9 400.3L275.6 403.2L276.4 406.0L277.2 408.9L278.0 411.8L278.8 414.7L279.7 417.6L280.5 420.5L281.4 423.4L282.3 426.3L283.2 429.2L284.1 432.1L285.0 435.0L286.0 437.9L286.9 440.7L287.9 443.6L288.9 446.5L290.0 449.5L291.0 452.3L292.2 455.2L293.4 457.9L294.8 460.5L296.4 463.0L298.1 465.3L300.1 467.5L302.3 469.3L304.9 470.9L307.6 472.1L310.4 472.4L313.1 471.9L315.6 470.5L317.9 468.6L320.0 466.3L322.0 463.9L324.2 461.6L326.6 459.5L329.3 457.7L332.0 456.2L334.9 455.1L337.7 454.6L340.5 454.7L343.0 455.4L345.5 456.6L347.7 458.4L349.8 460.5L351.7 462.9L353.5 465.5L355.2 468.3L356.7 471.1L358.1 473.9L359.3 476.7L360.5 479.5L361.6 482.3L362.6 485.1L363.5 487.9L364.4 490.7L365.3 493.5L366.2 496.3L367.1 499.2L367.9 502.0L368.8 504.9L369.7 507.7L370.5 510.6L371.4 513.5L372.2 516.3L373.1 519.2L373.9 522.1L374.8 525.0L375.6 527.9L376.4 530.8L377.2 533.7L378.1 536.6L378.9 539.5L379.7 542.4L380.5 545.3L381.3 548.2L382.2 551.1L383.0 554.0L383.8 556.9L384.6 559.8L385.4 562.7L386.2 565.6L387.0 568.5L387.8 571.4L388.6 574.3L389.4 577.2L390.2 580.1L391.0 583.0L391.9 585.9L392.7 588.8L393.5 591.7L394.3 594.6L395.1 597.5L395.9 600.3L396.7 603.2L397.6 606.1L398.4 609.0L399.2 611.9L400.0 614.8L400.9 617.6L401.7 620.5L402.6 623.4L403.4 626.3L404.3 629.1L405.1 632.0L406.0 634.9L406.8 637.7L407.7 640.6L408.6 643.5L409.5 646.3L410.4 649.2L411.4 652.0L412.4 654.8L413.5 657.6L414.6 660.4L415.8 663.2L417.1 666.0L418.4 668.7L419.8 671.4L421.4 674.1L423.0 676.7L424.9 679.2L426.8 681.4L429.0 683.4L431.4 685.1L434.1 686.5L436.9 687.4L439.8 687.8L442.7 687.7L445.4 687.1L448.0 685.8L450.6 684.2L453.1 682.3L455.7 680.4L458.4 678.5L461.1 676.8L463.9 675.3L466.7 674.4L469.5 674.0L472.4 674.1L475.1 674.6L477.9 675.6L480.5 676.9L483.0 678.5L485.4 680.4L487.6 682.5L489.5 684.7L491.3 687.1L492.9 689.7L494.4 692.3L495.7 695.0L496.9 697.8L498.0 700.7L499.0 703.6L499.9 706.5L500.8 709.4L501.7 712.4L502.6 715.3L503.5 718.2L504.3 721.0L505.2 723.9L506.0 726.7L506.9 729.6L507.8 732.4L508.7 735.2L509.5 738.1L510.4 740.9L511.3 743.8L512.2 746.6L513.2 749.5L514.1 752.3L515.0 755.2L515.9 758.1L516.9 761.0L517.8 763.8L518.7 766.7L519.6 769.6L520.5 772.5L521.4 775.4L522.3 778.2L523.2 781.1L524.1 784.0L524.9 786.9L525.8 789.8L526.6 792.7L527.4 795.5L528.2 798.4L529.0 801.3L529.9 804.1L530.7 807.0L531.6 809.8L532.6 812.7L533.6 815.5L534.7 818.3L535.9 821.1L537.1 823.8L538.5 826.6L540.1 829.3L541.7 832.0L543.6 834.4L545.6 836.5L548.0 838.0L550.6 838.9L553.4 839.0L556.4 838.5L559.3 837.5L562.1 836.1L564.5 834.4L566.8 832.5L569.0 830.5L571.1 828.3L573.2 826.0L575.4 823.8L577.7 821.7L580.0 819.7L582.5 818.0L585.2 816.5L588.1 815.5L591.0 815.0L593.9 815.0L596.5 815.6L598.8 816.9L600.8 818.8L602.6 821.1L604.1 823.7L605.5 826.6L606.8 829.5L608.1 832.5L609.3 835.4L610.6 838.2L611.9 841.0L613.1 843.8L614.3 846.6L615.5 849.4L616.7 852.1L617.9 854.8L619.0 857.6L620.1 860.3L621.2 863.0L622.3 865.8L623.3 868.6L624.3 871.3L625.3 874.1L626.3 876.9L627.3 879.7L628.3 882.5L629.2 885.3L630.2 888.1L631.1 891.0L632.0 893.8L633.0 896.7L633.9 899.6L634.8 902.4L635.7 905.3L636.6 908.2L637.6 911.2L638.5 914.1L639.4 917.1L640.4 920.0L641.3 923.0L642.4 925.9L643.4 928.8L644.6 931.6L645.8 934.4L647.2 937.0L648.6 939.6L650.3 942.0L652.0 944.3L653.9 946.4L656.1 948.4L658.4 950.2L660.9 951.7L663.6 952.9L666.4 953.6L669.2 953.6L671.9 952.8L674.5 951.1L676.9 949.0L679.2 946.7L681.4 944.5L683.5 942.3L685.5 940.2L687.5 938.0L689.5 935.7L691.6 933.4L693.8 931.1L696.1 928.9L698.5 927.0L701.1 925.6L703.8 924.8L706.6 924.7L709.4 925.1L711.9 926.2L714.2 927.8L716.2 929.9L718.0 932.2L719.6 934.9L721.1 937.7L722.6 940.6L723.9 943.5L725.3 946.4L726.6 949.2L727.8 951.9L729.1 954.6L730.3 957.3L731.5 959.9L732.7 962.6L733.9 965.3L735.1 968.0L736.2 970.7L737.3 973.5L738.4 976.2L739.5 979.0L740.6 981.7L741.7 984.5L742.8 987.3L743.9 990.1L745.0 993.0L746.0 995.8L747.1 998.6L748.2 1001.5L749.3 1004.4L750.4 1007.2L751.5 1010.1L752.6 1012.9L753.8 1015.8L755.0 1018.5L756.3 1021.3L757.7 1023.9L759.3 1026.5L760.9 1028.9L762.7 1031.3L764.7 1033.5L766.8 1035.5L769.1 1037.4L771.6 1039.1L774.3 1040.4L777.0 1041.1L779.7 1041.0L782.3 1040.0L784.9 1038.4L787.4 1036.3L789.7 1034.0L792.0 1031.7L794.1 1029.5L796.2 1027.3L798.3 1025.2L800.3 1023.1L802.3 1021.0L804.4 1018.9L806.5 1016.8L808.8 1014.7L811.1 1012.7L813.7 1010.9L816.4 1009.7L819.2 1009.2L822.1 1009.5L824.9 1010.4L827.5 1011.9L829.9 1013.8L832.0 1016.0L833.8 1018.3L835.4 1020.8L836.9 1023.5L838.3 1026.2L839.6 1028.9L841.0 1031.6L842.2 1034.4L843.5 1037.1L844.7 1039.9L845.9 1042.7L847.1 1045.4L848.2 1048.2L849.4 1051.0L850.5 1053.8L851.7 1056.6L852.8 1059.3L854.0 1062.1L855.2 1064.9L856.3 1067.6L857.5 1070.3L858.7 1073.1L860.0 1075.8L861.2 1078.4L862.5 1081.1L863.9 1083.7L865.3 1086.3L866.8 1089.0L868.4 1091.6L870.1 1094.2L872.0 1096.7L874.0 1099.2L876.1 1101.5L878.5 1103.4L881.0 1104.8L883.7 1105.7L886.5 1105.9L889.3 1105.6L892.2 1104.8L895.0 1103.6L897.6 1102.1L900.1 1100.4L902.4 1098.4L904.5 1096.3L906.5 1094.0L908.4 1091.7L910.4 1089.4L912.4 1087.1L914.4 1084.8L916.6 1082.7L918.8 1080.6L921.2 1078.7L923.8 1077.0L926.4 1075.6L929.2 1074.5L932.0 1073.9L934.8 1074.1L937.4 1075.0L939.9 1076.5L942.3 1078.5L944.5 1080.8L946.5 1083.3L948.3 1085.7L950.0 1088.2L951.6 1090.8L953.1 1093.3L954.5 1095.9L955.9 1098.5L957.3 1101.2L958.6 1103.9L960.0 1106.6L961.3 1109.3L962.7 1112.0L964.0 1114.7L965.3 1117.4L966.7 1120.1L968.1 1122.8L969.5 1125.4L970.9 1128.0L972.4 1130.6L973.9 1133.2L975.5 1135.7L977.2 1138.1L979.0 1140.5L981.0 1142.8L983.1 1145.1L985.3 1147.3L987.7 1149.3L990.2 1151.0L992.9 1152.3L995.7 1153.1L998.5 1153.2L1001.4 1152.9L1004.3 1152.1L1007.1 1150.9L1009.7 1149.5L1012.2 1147.8L1014.5 1145.9L1016.7 1143.9L1018.8 1141.7L1020.8 1139.4L1022.8 1137.1L1024.7 1134.7L1026.7 1132.3L1028.6 1129.9L1030.7 1127.7L1032.9 1125.7L1035.3 1123.8L1037.9 1122.3L1040.7 1121.1L1043.6 1120.4L1046.4 1120.4L1049.2 1121.1L1051.8 1122.3L1054.4 1124.0L1056.7 1125.9L1059.0 1128.0L1061.1 1130.2L1063.1 1132.5L1065.0 1134.9L1066.8 1137.3L1068.5 1139.7L1070.1 1142.2L1071.7 1144.8L1073.3 1147.3L1074.8 1149.9L1076.3 1152.5L1077.8 1155.1L1079.4 1157.7L1080.9 1160.3L1082.5 1162.8L1084.2 1165.3L1085.9 1167.8L1087.7 1170.2L1089.6 1172.6L1091.6 1174.9L1093.7 1177.1L1095.9 1179.2L1098.1 1181.3L1100.5 1183.1L1103.0 1184.6L1105.8 1185.5L1108.7 1185.8L1111.6 1185.5L1114.5 1184.8L1117.3 1183.7L1119.9 1182.2L1122.4 1180.5L1124.7 1178.5L1127.0 1176.4L1129.1 1174.2L1131.2 1171.9L1133.3 1169.7L1135.3 1167.5L1137.3 1165.4L1139.4 1163.3L1141.6 1161.3L1143.9 1159.4L1146.4 1157.7L1149.1 1156.0L1151.9 1154.6L1154.8 1153.6L1157.7 1153.1L1160.5 1153.2L1163.2 1154.0L1165.9 1155.3L1168.4 1156.9L1170.9 1158.9L1173.2 1161.0L1175.4 1163.2L1177.4 1165.5L1179.4 1167.7L1181.3 1170.0L1183.2 1172.3L1185.0 1174.6L1186.7 1177.0L1188.5 1179.4L1190.2 1181.7L1192.0 1184.1L1193.8 1186.5L1195.6 1188.9L1197.5 1191.2L1199.5 1193.6L1201.5 1196.0L1203.7 1198.3L1205.9 1200.5L1208.3 1202.5L1210.8 1204.2L1213.3 1205.6L1216.0 1206.6L1218.9 1207.0L1221.8 1207.0L1224.7 1206.6L1227.6 1205.7L1230.4 1204.6L1233.0 1203.2L1235.5 1201.5L1237.8 1199.7L1240.0 1197.8L1242.1 1195.7L1244.2 1193.5L1246.4 1191.3L1248.5 1189.1L1250.7 1186.9L1253.0 1184.8L1255.5 1182.8L1258.0 1180.9L1260.7 1179.2L1263.3 1177.9L1266.1 1176.9L1268.9 1176.3L1271.7 1176.2L1274.5 1176.7L1277.2 1177.5L1280.0 1178.8L1282.6 1180.3L1285.2 1182.1L1287.7 1184.0L1290.0 1186.0L1292.3 1188.1L1294.4 1190.2L1296.4 1192.4L1298.4 1194.6L1300.3 1196.9L1302.1 1199.2L1304.0 1201.6L1305.9 1203.9L1307.8 1206.3L1309.8 1208.5L1311.9 1210.7L1314.1 1212.7L1316.5 1214.7L1319.1 1216.4L1321.7 1217.9L1324.5 1219.0L1327.3 1219.8L1330.1 1220.2L1333.0 1220.1L1335.9 1219.6L1338.7 1218.7L1341.4 1217.5L1344.1 1216.0L1346.7 1214.3L1349.2 1212.4L1351.5 1210.3L1353.8 1208.2L1356.0 1206.0L1358.2 1203.8L1360.3 1201.7L1362.5 1199.6L1364.8 1197.6L1367.1 1195.9L1369.6 1194.3L1372.1 1193.0L1374.8 1192.0L1377.7 1191.3L1380.7 1190.9L1383.8 1190.9L1386.8 1191.3L1389.8 1192.0L1392.6 1193.0L1395.3 1194.3L1397.8 1195.8L1400.2 1197.6L1402.5 1199.6L1404.8 1201.6L1407.0 1203.8L1409.1 1206.0L1411.3 1208.2L1413.4 1210.3L1415.6 1212.4L1417.8 1214.4L1420.1 1216.3L1422.4 1218.2L1424.9 1219.9L1427.4 1221.5L1430.0 1223.0L1432.8 1224.3L1435.6 1225.4L1438.5 1226.2L1441.4 1226.7L1444.3 1226.7L1447.2 1226.3L1450.0 1225.5L1452.7 1224.3L1455.4 1222.9L1458.1 1221.2L1460.6 1219.4L1463.1 1217.5L1465.4 1215.5L1467.7 1213.5L1470.0 1211.6L1472.3 1209.6L1474.6 1207.8L1477.0 1206.0L1479.4 1204.3L1482.0 1202.7L1484.6 1201.4L1487.4 1200.2L1490.3 1199.2L1493.3 1198.6L1496.2 1198.2L1499.2 1198.2L1502.1 1198.7L1504.9 1199.5L1507.6 1200.6L1510.3 1202.0L1512.9 1203.7L1515.4 1205.5L1517.9 1207.5L1520.3 1209.5L1522.6 1211.5L1524.9 1213.4L1527.2 1215.3L1529.5 1217.1L1531.8 1218.8L1534.3 1220.5L1536.8 1222.2L1539.5 1223.7L1542.2 1225.0L1545.0 1226.1L1547.9 1227.0L1550.8 1227.5L1553.8 1227.6L1556.7 1227.4L1559.6 1226.8L1562.5 1225.9L1565.3 1224.7L1568.0 1223.3L1570.6 1221.7L1573.1 1219.9L1575.5 1218.0L1577.8 1216.0L1580.1 1214.0L1582.4 1211.9L1584.7 1210.0L1587.1 1208.2L1589.5 1206.5L1592.1 1205.0L1594.8 1203.7L1597.6 1202.7L1600.5 1201.9L1603.5 1201.4L1606.4 1201.2L1609.4 1201.2L1612.4 1201.5L1615.2 1202.0L1618.1 1202.9L1620.8 1203.9L1623.4 1205.2L1626.1 1206.7L1628.6 1208.3L1631.2 1210.1L1633.7 1211.9L1636.2 1213.7L1638.8 1215.6L1641.3 1217.4L1643.9 1219.1L1646.5 1220.7L1649.2 1222.1L1651.9 1223.3L1654.7 1224.3L1657.5 1225.0L1660.4 1225.3L1663.3 1225.2L1666.3 1224.9L1669.2 1224.3L1672.0 1223.3L1674.7 1222.2L1677.3 1220.8L1679.8 1219.2L1682.3 1217.5L1684.7 1215.7L1687.1 1213.8L1689.5 1211.9L1692.0 1210.0L1694.4 1208.2L1696.9 1206.5L1699.5 1204.8L1702.2 1203.4L1705.0 1202.2L1707.8 1201.2L1710.7 1200.4L1713.7 1199.9L1716.7 1199.5L1719.7 1199.5L1722.6 1199.7L1725.5 1200.1L1728.4 1200.8L1731.2 1201.6L1734.0 1202.7L1736.7 1203.9L1739.4 1205.3L1742.1 1206.8L1744.7 1208.4L1747.3 1210.1L1749.9 1211.9L1752.5 1213.6L1755.1 1215.3L1757.7 1216.8L1760.4 1218.2L1763.1 1219.3L1765.9 1220.1L1768.8 1220.5L1771.7 1220.7L1774.6 1220.5L1777.6 1220.0L1780.5 1219.3L1783.4 1218.4L1786.2 1217.2L1788.9 1215.9L1791.5 1214.5L1794.0 1212.9L1796.5 1211.2L1799.0 1209.5L1801.5 1207.8L1804.0 1206.1L1806.6 1204.5L1809.2 1202.9L1811.9 1201.5L1814.7 1200.2L1817.5 1199.0L1820.3 1198.1L1823.2 1197.3L1826.1 1196.8L1829.1 1196.5L1832.1 1196.5L1835.0 1196.7L1838.0 1197.2L1840.9 1197.9L1843.8 1198.8L1846.6 1199.8L1849.3 1201.0L1852.0 1202.4L1854.7 1203.8L1857.4 1205.3L1860.0 1206.8L1862.7 1208.2L1865.4 1209.6L1868.1 1210.8L1870.9 1211.9L1873.7 1212.9L1876.6 1213.6L1879.6 1214.1L1882.6 1214.3L1885.6 1214.4L1888.6 1214.2L1891.6 1213.7L1894.6 1213.1L1897.4 1212.2L1900.2 1211.1L1902.9 1209.8L1905.5 1208.4L1908.1 1206.9L1910.7 1205.3L1913.2 1203.6L1915.8 1202.0L1918.4 1200.5L1921.1 1199.0L1923.8 1197.7L1926.6 1196.5L1929.4 1195.5L1932.3 1194.6L1935.2 1193.9L1938.1 1193.4L1941.1 1193.0L1944.1 1192.9L1947.1 1193.0L1950.1 1193.2L1953.1 1193.7L1956.0 1194.3L1958.9 1195.1L1961.8 1196.1L1964.6 1197.3L1967.3 1198.6L1969.9 1200.0L1972.6 1201.5L1975.2 1202.9L1977.9 1204.3L1980.6 1205.5L1983.4 1206.6L1986.3 1207.5L1989.2 1208.1L1992.2 1208.5L1995.3 1208.6L1998.3 1208.6L2001.4 1208.3L2004.4 1207.8L2007.3 1207.1L2010.1 1206.3L2012.9 1205.3L2015.6 1204.1L2018.2 1202.8L2020.9 1201.5L2023.5 1200.1L2026.2 1198.6L2028.8 1197.1L2031.5 1195.6L2034.3 1194.1L2037.0 1192.7L2039.8 1191.4L2042.6 1190.2L2045.4 1189.1L2048.3 1188.2L2051.1 1187.5L2054.0 1187.1L2056.9 1186.8L2059.7 1186.9L2062.6 1187.1L2065.5 1187.6L2068.4 1188.3L2071.3 1189.1L2074.2 1190.1L2077.1 1191.2L2080.0 1192.4L2082.9 1193.6L2085.8 1194.9L2088.7 1196.0L2091.6 1197.2L2094.5 1198.2L2097.4 1199.1L2100.2 1199.8L2103.1 1200.2L2105.9 1200.4L2108.7 1200.4L2111.5 1200.0L2114.3 1199.4L2117.1 1198.6L2119.9 1197.6L2122.7 1196.4L2125.4 1195.1L2128.2 1193.7L2130.9 1192.3L2133.7 1190.8L2136.4 1189.3L2139.2 1187.8L2141.9 1186.4L2144.7 1185.1L2147.5 1183.9L2150.3 1182.8L2153.0 1181.9L2155.8 1181.0L2158.7 1180.4L2161.5 1179.8L2164.4 1179.4L2167.3 1179.2L2170.3 1179.0L2173.3 1179.1L2176.4 1179.3L2179.5 1179.7L2182.6 1180.2"/>
</g>
<g filter="url(#crisp)">
<text x="237.5" y="1406.9" text-anchor="middle">0</text>
<text x="432.0" y="1406.9" text-anchor="middle">1</text>
<text x="626.5" y="1406.9" text-anchor="middle">2</text>
<text x="821.0" y="1406.9" text-anchor="middle">3</text>
<text x="1015.5" y="1406.9" text-anchor="middle">4</text>
<text x="1210.0" y="1406.9" text-anchor="middle">5</text>
<text x="1404.5" y="1406.9" text-anchor="middle">6</text>
<text x="1599.0" y="1406.9" text-anchor="middle">7</text>
<text x="1793.5" y="1406.9" text-anchor="middle">8</text>
<text x="1988.0" y="1406.9" text-anchor="middle">9</text>
<text x="2183.5" y="1406.9" text-anchor="middle">10</text>
<text x="221.5" y="51.0" text-anchor="end">1.2</text>
<text x="221.5" y="238.0" text-anchor="end">1</text>
<text x="221.5" y="425.0" text-anchor="end">0.8</text>
<text x="221.5" y="612.0" text-anchor="end">0.6</text>
<text x="221.5" y="799.0" text-anchor="end">0.4</text>
<text x="221.5" y="986.0" text-anchor="end">0.2</text>
<text x="221.5" y="1173.0" text-anchor="end">0</text>
<text x="221.5" y="1360.0" text-anchor="end">−0.2</text>
</g>
<g filter="url(#crisp)">
<text x="1125.4" y="1473" textLength="166.6" lengthAdjust="spacing">time(s)</text>
<g transform="translate(50.2,746.5) rotate(-90)"><text x="0.4" y="0" style="font-family:'Liberation Serif',serif;font-size:58.2px">Δ</text><text x="40.6" y="0" font-style="italic">P</text><text x="76.4" y="28.1" font-style="italic" style="font-size:44.5px" textLength="59.6" lengthAdjust="spacing">out</text></g>
</g>
<g fill="#000" shape-rendering="crispEdges">
<rect x="1400" y="57" width="757" height="157" fill="#fff"/>
<rect x="1400" y="57" width="757" height="3"/>
<rect x="1400" y="211" width="757" height="3"/>
<rect x="1400" y="57" width="4" height="157"/>
<rect x="2153" y="57" width="4" height="157"/>
<rect x="1435" y="99" width="170" height="4" fill="#0000ff"/>
<rect x="1435" y="168" width="34" height="4" fill="#ff0000"/>
<rect x="1501" y="168" width="35" height="4" fill="#ff0000"/>
<rect x="1568" y="168" width="34" height="4" fill="#ff0000"/>
</g>
<g filter="url(#crisp)">
<text x="1622.3" y="121.2" textLength="436.5" lengthAdjust="spacing">Proposed method</text>
<text x="1621.4" y="190.3" textLength="523" lengthAdjust="spacing">Conventional method</text>
</g>
</svg></body></html>
